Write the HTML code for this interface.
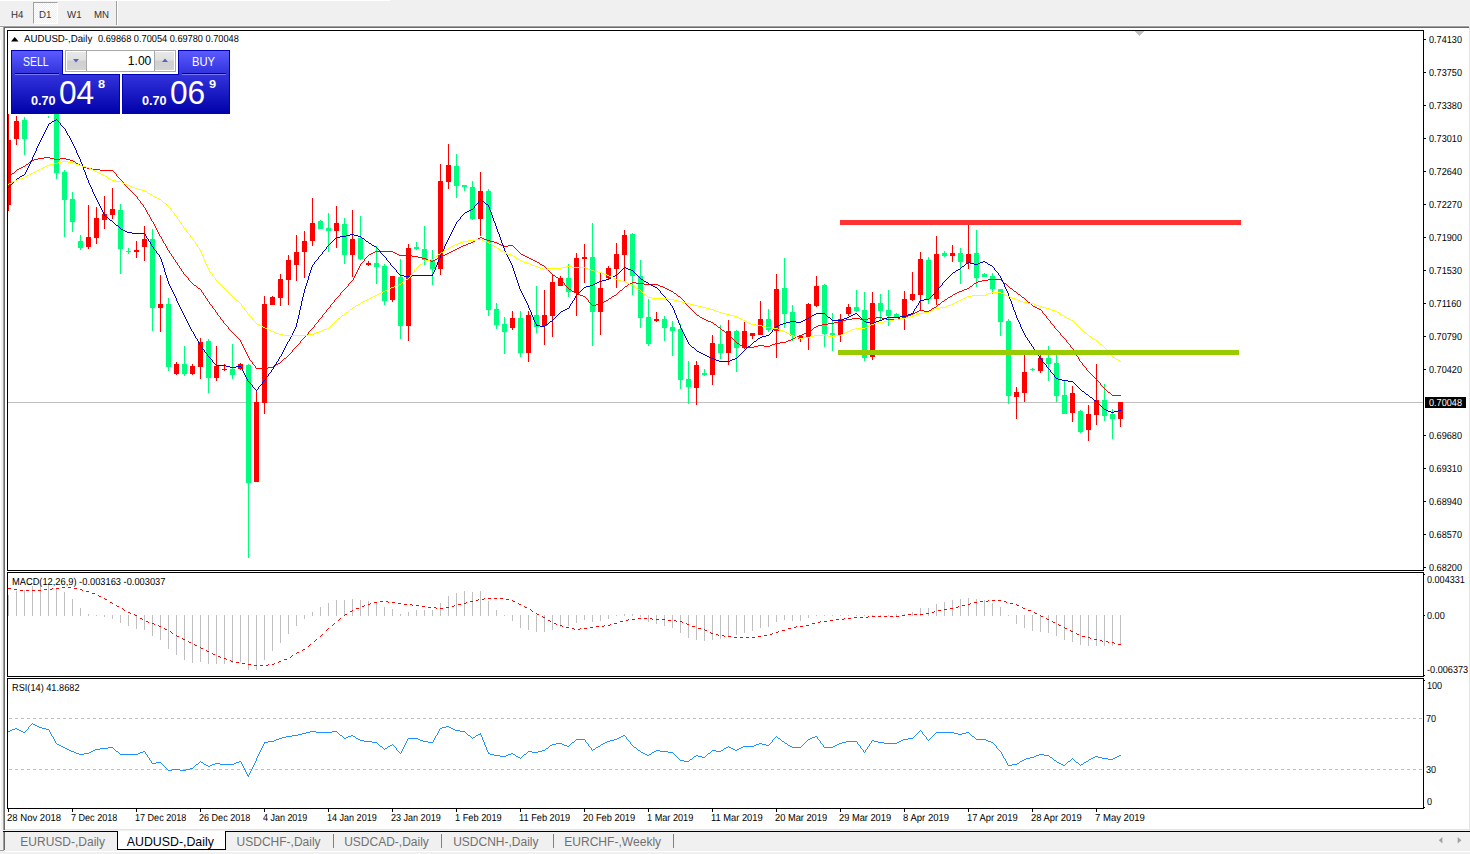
<!DOCTYPE html><html><head><meta charset="utf-8"><title>AUDUSD Daily</title><style>
html,body{margin:0;padding:0}
body{width:1470px;height:854px;overflow:hidden;background:#f0f0f0;position:relative;font-family:"Liberation Sans",sans-serif;}
.a{position:absolute}
.t{position:absolute;white-space:pre;font-size:10.2px;line-height:10px;color:#000;transform-origin:0 0;text-rendering:geometricPrecision}
.tb{position:absolute;white-space:pre;font-size:10.2px;line-height:10px;color:#333;top:11px;text-rendering:geometricPrecision;transform:scaleX(0.95);transform-origin:0 0}
.tab{position:absolute;white-space:pre;font-size:12.3px;line-height:14px;color:#707070;top:835px}
svg{position:absolute;left:0;top:0}

</style></head><body>
<div class="a" style="left:0;top:0;width:390px;height:1px;background:#fff"></div>
<div class="a" style="left:33px;top:2px;width:25px;height:22px;background:repeating-conic-gradient(#ffffff 0% 25%,#f0f0f0 0% 50%) 0 0/2px 2px;border-left:1px solid #a0a0a0;border-top:1px solid #a0a0a0;border-right:1px solid #fff;border-bottom:1px solid #fff;box-sizing:border-box"></div>
<div class="tb" style="left:10.5px">H4</div>
<div class="tb" style="left:39.3px">D1</div>
<div class="tb" style="left:67px">W1</div>
<div class="tb" style="left:93.7px">MN</div>
<div class="a" style="left:116px;top:1px;width:1px;height:25px;background:#a0a0a0"></div>
<div class="a" style="left:117px;top:1px;width:1px;height:25px;background:#fff"></div>
<div class="a" style="left:0px;top:25px;width:1470px;height:1px;background:#f4f4f4"></div>
<div class="a" style="left:0px;top:26px;width:1469px;height:1px;background:#a0a0a0"></div>
<div class="a" style="left:0px;top:27px;width:3px;height:1px;background:#fff"></div>
<div class="a" style="left:0px;top:40px;width:1px;height:790px;background:#fff"></div>
<div class="a" style="left:3px;top:26px;width:1466px;height:804px;background:#a0a0a0"></div>
<div class="a" style="left:4px;top:27px;width:1465px;height:803px;background:#696969"></div>
<div class="a" style="left:5px;top:28px;width:1464px;height:801px;background:#fff"></div>
<div class="a" style="left:5px;top:829px;width:1464px;height:1px;background:#e3e3e3"></div>
<div class="a" style="left:1469px;top:26px;width:1px;height:804px;background:#e3e3e3"></div>
<div class="a" style="left:0px;top:830px;width:1470px;height:1px;background:#f0f0f0"></div>
<div class="a" style="left:3px;top:831px;width:1467px;height:1px;background:#000"></div>
<div class="a" style="left:3px;top:832px;width:1px;height:19px;background:#a0a0a0"></div>
<div class="a" style="left:4px;top:832px;width:1px;height:18px;background:#696969"></div>
<div class="a" style="left:0px;top:850px;width:4px;height:1px;background:#a0a0a0"></div>
<div class="a" style="left:5px;top:851px;width:1465px;height:1px;background:#fff"></div>
<div class="a" style="left:117px;top:831px;width:109px;height:19px;background:#fff;border:1px solid #000;border-top:none;box-sizing:border-box"></div>
<div class="a" style="left:118px;top:831px;width:107px;height:1px;background:#fff"></div>
<div class="tab" style="left:20.3px;font-size:12.0px;">EURUSD-,Daily</div>
<div class="tab" style="left:126.8px;font-size:12.35px;color:#000">AUDUSD-,Daily</div>
<div class="tab" style="left:236.6px;font-size:12.0px;">USDCHF-,Daily</div>
<div class="tab" style="left:344.2px;font-size:12.0px;">USDCAD-,Daily</div>
<div class="tab" style="left:453.2px;font-size:12.0px;">USDCNH-,Daily</div>
<div class="tab" style="left:564.2px;font-size:12.07px;">EURCHF-,Weekly</div>
<div class="a" style="left:333px;top:834px;width:1px;height:14px;background:#808080"></div>
<div class="a" style="left:441px;top:834px;width:1px;height:14px;background:#808080"></div>
<div class="a" style="left:553px;top:834px;width:1px;height:14px;background:#808080"></div>
<div class="a" style="left:673px;top:834px;width:1px;height:14px;background:#808080"></div>
<svg width="1470" height="854" viewBox="0 0 1470 854" shape-rendering="crispEdges">
<rect x="8" y="402" width="1415" height="1" fill="#c0c0c0"/>
<clipPath id="cc"><rect x="8" y="31" width="1415" height="539"/></clipPath><g clip-path="url(#cc)">
<rect x="8" y="114" width="1" height="97" fill="#ff0000"/>
<rect x="6" y="140" width="5" height="65" fill="#ff0000"/>
<rect x="16" y="116" width="1" height="29" fill="#ff0000"/>
<rect x="14" y="121" width="5" height="18" fill="#ff0000"/>
<rect x="24" y="117" width="1" height="38" fill="#00ff7f"/>
<rect x="22" y="120" width="5" height="19" fill="#00ff7f"/>
<rect x="48" y="116" width="1" height="2" fill="#00ff7f"/>
<rect x="46" y="100" width="5" height="1" fill="#00ff7f"/>
<rect x="56" y="100" width="1" height="79" fill="#00ff7f"/>
<rect x="54" y="100" width="5" height="73" fill="#00ff7f"/>
<rect x="64" y="170" width="1" height="67" fill="#00ff7f"/>
<rect x="62" y="172" width="5" height="28" fill="#00ff7f"/>
<rect x="72" y="192" width="1" height="40" fill="#00ff7f"/>
<rect x="70" y="199" width="5" height="23" fill="#00ff7f"/>
<rect x="80" y="235" width="1" height="15" fill="#00ff7f"/>
<rect x="78" y="241" width="5" height="7" fill="#00ff7f"/>
<rect x="88" y="205" width="1" height="44" fill="#ff0000"/>
<rect x="86" y="237" width="5" height="10" fill="#ff0000"/>
<rect x="96" y="207" width="1" height="37" fill="#ff0000"/>
<rect x="94" y="218" width="5" height="20" fill="#ff0000"/>
<rect x="104" y="196" width="1" height="33" fill="#ff0000"/>
<rect x="102" y="214" width="5" height="6" fill="#ff0000"/>
<rect x="112" y="188" width="1" height="31" fill="#ff0000"/>
<rect x="110" y="209" width="5" height="6" fill="#ff0000"/>
<rect x="120" y="204" width="1" height="70" fill="#00ff7f"/>
<rect x="118" y="210" width="5" height="39" fill="#00ff7f"/>
<rect x="128" y="248" width="1" height="6" fill="#00ff7f"/>
<rect x="126" y="251" width="5" height="1" fill="#00ff7f"/>
<rect x="136" y="241" width="1" height="17" fill="#ff0000"/>
<rect x="134" y="250" width="5" height="2" fill="#ff0000"/>
<rect x="144" y="226" width="1" height="35" fill="#ff0000"/>
<rect x="142" y="239" width="5" height="8" fill="#ff0000"/>
<rect x="152" y="229" width="1" height="102" fill="#00ff7f"/>
<rect x="150" y="239" width="5" height="69" fill="#00ff7f"/>
<rect x="160" y="275" width="1" height="57" fill="#ff0000"/>
<rect x="158" y="304" width="5" height="4" fill="#ff0000"/>
<rect x="168" y="298" width="1" height="73" fill="#00ff7f"/>
<rect x="166" y="304" width="5" height="63" fill="#00ff7f"/>
<rect x="176" y="362" width="1" height="13" fill="#ff0000"/>
<rect x="174" y="364" width="5" height="10" fill="#ff0000"/>
<rect x="184" y="346" width="1" height="30" fill="#00ff7f"/>
<rect x="182" y="364" width="5" height="10" fill="#00ff7f"/>
<rect x="192" y="364" width="1" height="11" fill="#ff0000"/>
<rect x="190" y="366" width="5" height="8" fill="#ff0000"/>
<rect x="200" y="338" width="1" height="41" fill="#ff0000"/>
<rect x="198" y="342" width="5" height="25" fill="#ff0000"/>
<rect x="208" y="339" width="1" height="54" fill="#00ff7f"/>
<rect x="206" y="341" width="5" height="37" fill="#00ff7f"/>
<rect x="216" y="346" width="1" height="35" fill="#ff0000"/>
<rect x="214" y="366" width="5" height="12" fill="#ff0000"/>
<rect x="224" y="364" width="1" height="7" fill="#ff0000"/>
<rect x="222" y="369" width="5" height="1" fill="#ff0000"/>
<rect x="232" y="344" width="1" height="35" fill="#00ff7f"/>
<rect x="230" y="369" width="5" height="6" fill="#00ff7f"/>
<rect x="240" y="363" width="1" height="7" fill="#ff0000"/>
<rect x="238" y="364" width="5" height="5" fill="#ff0000"/>
<rect x="248" y="364" width="1" height="194" fill="#00ff7f"/>
<rect x="246" y="365" width="5" height="118" fill="#00ff7f"/>
<rect x="256" y="390" width="1" height="92" fill="#ff0000"/>
<rect x="254" y="402" width="5" height="80" fill="#ff0000"/>
<rect x="264" y="296" width="1" height="118" fill="#ff0000"/>
<rect x="262" y="304" width="5" height="99" fill="#ff0000"/>
<rect x="272" y="296" width="1" height="9" fill="#ff0000"/>
<rect x="270" y="297" width="5" height="8" fill="#ff0000"/>
<rect x="280" y="274" width="1" height="32" fill="#ff0000"/>
<rect x="278" y="279" width="5" height="19" fill="#ff0000"/>
<rect x="288" y="255" width="1" height="50" fill="#ff0000"/>
<rect x="286" y="260" width="5" height="20" fill="#ff0000"/>
<rect x="296" y="235" width="1" height="46" fill="#ff0000"/>
<rect x="294" y="252" width="5" height="13" fill="#ff0000"/>
<rect x="304" y="231" width="1" height="47" fill="#ff0000"/>
<rect x="302" y="241" width="5" height="11" fill="#ff0000"/>
<rect x="312" y="198" width="1" height="48" fill="#ff0000"/>
<rect x="310" y="223" width="5" height="18" fill="#ff0000"/>
<rect x="320" y="220" width="1" height="9" fill="#00ff7f"/>
<rect x="318" y="221" width="5" height="8" fill="#00ff7f"/>
<rect x="328" y="213" width="1" height="39" fill="#00ff7f"/>
<rect x="326" y="228" width="5" height="3" fill="#00ff7f"/>
<rect x="336" y="206" width="1" height="42" fill="#ff0000"/>
<rect x="334" y="223" width="5" height="8" fill="#ff0000"/>
<rect x="344" y="218" width="1" height="46" fill="#00ff7f"/>
<rect x="342" y="224" width="5" height="31" fill="#00ff7f"/>
<rect x="352" y="210" width="1" height="67" fill="#ff0000"/>
<rect x="350" y="239" width="5" height="16" fill="#ff0000"/>
<rect x="360" y="216" width="1" height="44" fill="#00ff7f"/>
<rect x="358" y="238" width="5" height="21" fill="#00ff7f"/>
<rect x="368" y="261" width="1" height="5" fill="#ff0000"/>
<rect x="366" y="263" width="5" height="2" fill="#ff0000"/>
<rect x="376" y="246" width="1" height="38" fill="#00ff7f"/>
<rect x="374" y="263" width="5" height="4" fill="#00ff7f"/>
<rect x="384" y="264" width="1" height="41" fill="#00ff7f"/>
<rect x="382" y="266" width="5" height="35" fill="#00ff7f"/>
<rect x="392" y="276" width="1" height="26" fill="#ff0000"/>
<rect x="390" y="276" width="5" height="24" fill="#ff0000"/>
<rect x="400" y="259" width="1" height="80" fill="#00ff7f"/>
<rect x="398" y="277" width="5" height="49" fill="#00ff7f"/>
<rect x="408" y="244" width="1" height="97" fill="#ff0000"/>
<rect x="406" y="248" width="5" height="78" fill="#ff0000"/>
<rect x="416" y="242" width="1" height="8" fill="#00ff7f"/>
<rect x="414" y="247" width="5" height="2" fill="#00ff7f"/>
<rect x="424" y="226" width="1" height="39" fill="#00ff7f"/>
<rect x="422" y="249" width="5" height="11" fill="#00ff7f"/>
<rect x="432" y="250" width="1" height="35" fill="#00ff7f"/>
<rect x="430" y="260" width="5" height="9" fill="#00ff7f"/>
<rect x="440" y="164" width="1" height="111" fill="#ff0000"/>
<rect x="438" y="181" width="5" height="88" fill="#ff0000"/>
<rect x="448" y="144" width="1" height="45" fill="#ff0000"/>
<rect x="446" y="165" width="5" height="17" fill="#ff0000"/>
<rect x="456" y="154" width="1" height="44" fill="#00ff7f"/>
<rect x="454" y="166" width="5" height="20" fill="#00ff7f"/>
<rect x="464" y="185" width="1" height="6" fill="#00ff7f"/>
<rect x="462" y="185" width="5" height="2" fill="#00ff7f"/>
<rect x="472" y="181" width="1" height="39" fill="#00ff7f"/>
<rect x="470" y="187" width="5" height="32" fill="#00ff7f"/>
<rect x="480" y="172" width="1" height="64" fill="#ff0000"/>
<rect x="478" y="191" width="5" height="28" fill="#ff0000"/>
<rect x="488" y="189" width="1" height="127" fill="#00ff7f"/>
<rect x="486" y="191" width="5" height="119" fill="#00ff7f"/>
<rect x="496" y="303" width="1" height="26" fill="#00ff7f"/>
<rect x="494" y="309" width="5" height="16" fill="#00ff7f"/>
<rect x="504" y="317" width="1" height="37" fill="#00ff7f"/>
<rect x="502" y="324" width="5" height="8" fill="#00ff7f"/>
<rect x="512" y="311" width="1" height="19" fill="#ff0000"/>
<rect x="510" y="318" width="5" height="10" fill="#ff0000"/>
<rect x="520" y="311" width="1" height="46" fill="#00ff7f"/>
<rect x="518" y="318" width="5" height="35" fill="#00ff7f"/>
<rect x="528" y="311" width="1" height="51" fill="#ff0000"/>
<rect x="526" y="315" width="5" height="38" fill="#ff0000"/>
<rect x="536" y="286" width="1" height="47" fill="#00ff7f"/>
<rect x="534" y="315" width="5" height="12" fill="#00ff7f"/>
<rect x="544" y="290" width="1" height="55" fill="#ff0000"/>
<rect x="542" y="315" width="5" height="11" fill="#ff0000"/>
<rect x="552" y="275" width="1" height="62" fill="#ff0000"/>
<rect x="550" y="282" width="5" height="34" fill="#ff0000"/>
<rect x="560" y="276" width="1" height="10" fill="#ff0000"/>
<rect x="558" y="278" width="5" height="8" fill="#ff0000"/>
<rect x="568" y="264" width="1" height="33" fill="#00ff7f"/>
<rect x="566" y="278" width="5" height="14" fill="#00ff7f"/>
<rect x="576" y="253" width="1" height="63" fill="#ff0000"/>
<rect x="574" y="258" width="5" height="35" fill="#ff0000"/>
<rect x="584" y="244" width="1" height="39" fill="#ff0000"/>
<rect x="582" y="257" width="5" height="2" fill="#ff0000"/>
<rect x="592" y="223" width="1" height="123" fill="#00ff7f"/>
<rect x="590" y="257" width="5" height="55" fill="#00ff7f"/>
<rect x="600" y="273" width="1" height="62" fill="#ff0000"/>
<rect x="598" y="288" width="5" height="24" fill="#ff0000"/>
<rect x="608" y="266" width="1" height="13" fill="#ff0000"/>
<rect x="606" y="268" width="5" height="10" fill="#ff0000"/>
<rect x="616" y="243" width="1" height="45" fill="#ff0000"/>
<rect x="614" y="254" width="5" height="15" fill="#ff0000"/>
<rect x="624" y="230" width="1" height="51" fill="#ff0000"/>
<rect x="622" y="235" width="5" height="20" fill="#ff0000"/>
<rect x="632" y="233" width="1" height="62" fill="#00ff7f"/>
<rect x="630" y="234" width="5" height="42" fill="#00ff7f"/>
<rect x="640" y="260" width="1" height="68" fill="#00ff7f"/>
<rect x="638" y="276" width="5" height="42" fill="#00ff7f"/>
<rect x="648" y="299" width="1" height="47" fill="#00ff7f"/>
<rect x="646" y="317" width="5" height="27" fill="#00ff7f"/>
<rect x="656" y="312" width="1" height="10" fill="#ff0000"/>
<rect x="654" y="319" width="5" height="2" fill="#ff0000"/>
<rect x="664" y="316" width="1" height="25" fill="#00ff7f"/>
<rect x="662" y="319" width="5" height="9" fill="#00ff7f"/>
<rect x="672" y="321" width="1" height="35" fill="#00ff7f"/>
<rect x="670" y="327" width="5" height="4" fill="#00ff7f"/>
<rect x="680" y="324" width="1" height="65" fill="#00ff7f"/>
<rect x="678" y="329" width="5" height="51" fill="#00ff7f"/>
<rect x="688" y="361" width="1" height="43" fill="#00ff7f"/>
<rect x="686" y="379" width="5" height="8" fill="#00ff7f"/>
<rect x="696" y="361" width="1" height="44" fill="#ff0000"/>
<rect x="694" y="365" width="5" height="23" fill="#ff0000"/>
<rect x="704" y="369" width="1" height="7" fill="#00ff7f"/>
<rect x="702" y="373" width="5" height="2" fill="#00ff7f"/>
<rect x="712" y="335" width="1" height="50" fill="#ff0000"/>
<rect x="710" y="343" width="5" height="32" fill="#ff0000"/>
<rect x="720" y="325" width="1" height="34" fill="#00ff7f"/>
<rect x="718" y="344" width="5" height="9" fill="#00ff7f"/>
<rect x="728" y="320" width="1" height="45" fill="#ff0000"/>
<rect x="726" y="331" width="5" height="22" fill="#ff0000"/>
<rect x="736" y="330" width="1" height="42" fill="#00ff7f"/>
<rect x="734" y="331" width="5" height="17" fill="#00ff7f"/>
<rect x="744" y="322" width="1" height="27" fill="#ff0000"/>
<rect x="742" y="331" width="5" height="17" fill="#ff0000"/>
<rect x="752" y="333" width="1" height="6" fill="#ff0000"/>
<rect x="750" y="333" width="5" height="3" fill="#ff0000"/>
<rect x="760" y="301" width="1" height="34" fill="#ff0000"/>
<rect x="758" y="319" width="5" height="16" fill="#ff0000"/>
<rect x="768" y="309" width="1" height="23" fill="#00ff7f"/>
<rect x="766" y="319" width="5" height="11" fill="#00ff7f"/>
<rect x="776" y="274" width="1" height="84" fill="#ff0000"/>
<rect x="774" y="289" width="5" height="42" fill="#ff0000"/>
<rect x="784" y="258" width="1" height="70" fill="#00ff7f"/>
<rect x="782" y="288" width="5" height="26" fill="#00ff7f"/>
<rect x="792" y="305" width="1" height="36" fill="#00ff7f"/>
<rect x="790" y="312" width="5" height="24" fill="#00ff7f"/>
<rect x="800" y="336" width="1" height="6" fill="#ff0000"/>
<rect x="798" y="336" width="5" height="3" fill="#ff0000"/>
<rect x="808" y="303" width="1" height="47" fill="#ff0000"/>
<rect x="806" y="304" width="5" height="33" fill="#ff0000"/>
<rect x="816" y="276" width="1" height="31" fill="#ff0000"/>
<rect x="814" y="286" width="5" height="20" fill="#ff0000"/>
<rect x="824" y="284" width="1" height="63" fill="#00ff7f"/>
<rect x="822" y="285" width="5" height="49" fill="#00ff7f"/>
<rect x="832" y="313" width="1" height="38" fill="#00ff7f"/>
<rect x="830" y="333" width="5" height="2" fill="#00ff7f"/>
<rect x="840" y="314" width="1" height="28" fill="#ff0000"/>
<rect x="838" y="319" width="5" height="16" fill="#ff0000"/>
<rect x="848" y="304" width="1" height="12" fill="#ff0000"/>
<rect x="846" y="307" width="5" height="7" fill="#ff0000"/>
<rect x="856" y="290" width="1" height="22" fill="#00ff7f"/>
<rect x="854" y="307" width="5" height="4" fill="#00ff7f"/>
<rect x="864" y="292" width="1" height="69" fill="#00ff7f"/>
<rect x="862" y="310" width="5" height="48" fill="#00ff7f"/>
<rect x="872" y="292" width="1" height="68" fill="#ff0000"/>
<rect x="870" y="303" width="5" height="54" fill="#ff0000"/>
<rect x="880" y="294" width="1" height="26" fill="#00ff7f"/>
<rect x="878" y="303" width="5" height="8" fill="#00ff7f"/>
<rect x="888" y="290" width="1" height="36" fill="#00ff7f"/>
<rect x="886" y="310" width="5" height="6" fill="#00ff7f"/>
<rect x="896" y="313" width="1" height="5" fill="#00ff7f"/>
<rect x="894" y="314" width="5" height="4" fill="#00ff7f"/>
<rect x="904" y="291" width="1" height="39" fill="#ff0000"/>
<rect x="902" y="299" width="5" height="19" fill="#ff0000"/>
<rect x="912" y="272" width="1" height="29" fill="#ff0000"/>
<rect x="910" y="294" width="5" height="6" fill="#ff0000"/>
<rect x="920" y="252" width="1" height="58" fill="#ff0000"/>
<rect x="918" y="259" width="5" height="36" fill="#ff0000"/>
<rect x="928" y="257" width="1" height="47" fill="#00ff7f"/>
<rect x="926" y="260" width="5" height="39" fill="#00ff7f"/>
<rect x="936" y="236" width="1" height="69" fill="#ff0000"/>
<rect x="934" y="254" width="5" height="45" fill="#ff0000"/>
<rect x="944" y="251" width="1" height="6" fill="#00ff7f"/>
<rect x="942" y="253" width="5" height="3" fill="#00ff7f"/>
<rect x="952" y="245" width="1" height="17" fill="#ff0000"/>
<rect x="950" y="253" width="5" height="3" fill="#ff0000"/>
<rect x="960" y="248" width="1" height="36" fill="#00ff7f"/>
<rect x="958" y="253" width="5" height="9" fill="#00ff7f"/>
<rect x="968" y="222" width="1" height="47" fill="#ff0000"/>
<rect x="966" y="254" width="5" height="9" fill="#ff0000"/>
<rect x="976" y="230" width="1" height="57" fill="#00ff7f"/>
<rect x="974" y="253" width="5" height="25" fill="#00ff7f"/>
<rect x="984" y="273" width="1" height="4" fill="#00ff7f"/>
<rect x="982" y="274" width="5" height="3" fill="#00ff7f"/>
<rect x="992" y="273" width="1" height="21" fill="#00ff7f"/>
<rect x="990" y="276" width="5" height="13" fill="#00ff7f"/>
<rect x="1000" y="289" width="1" height="47" fill="#00ff7f"/>
<rect x="998" y="289" width="5" height="33" fill="#00ff7f"/>
<rect x="1008" y="319" width="1" height="85" fill="#00ff7f"/>
<rect x="1006" y="321" width="5" height="75" fill="#00ff7f"/>
<rect x="1016" y="387" width="1" height="32" fill="#ff0000"/>
<rect x="1014" y="392" width="5" height="5" fill="#ff0000"/>
<rect x="1024" y="350" width="1" height="52" fill="#ff0000"/>
<rect x="1022" y="372" width="5" height="21" fill="#ff0000"/>
<rect x="1032" y="368" width="1" height="3" fill="#00ff7f"/>
<rect x="1030" y="369" width="5" height="1" fill="#00ff7f"/>
<rect x="1040" y="350" width="1" height="23" fill="#ff0000"/>
<rect x="1038" y="358" width="5" height="13" fill="#ff0000"/>
<rect x="1048" y="346" width="1" height="35" fill="#00ff7f"/>
<rect x="1046" y="358" width="5" height="6" fill="#00ff7f"/>
<rect x="1056" y="350" width="1" height="52" fill="#00ff7f"/>
<rect x="1054" y="363" width="5" height="33" fill="#00ff7f"/>
<rect x="1064" y="380" width="1" height="34" fill="#00ff7f"/>
<rect x="1062" y="395" width="5" height="19" fill="#00ff7f"/>
<rect x="1072" y="386" width="1" height="36" fill="#ff0000"/>
<rect x="1070" y="393" width="5" height="20" fill="#ff0000"/>
<rect x="1080" y="410" width="1" height="23" fill="#00ff7f"/>
<rect x="1078" y="411" width="5" height="21" fill="#00ff7f"/>
<rect x="1088" y="405" width="1" height="36" fill="#ff0000"/>
<rect x="1086" y="414" width="5" height="16" fill="#ff0000"/>
<rect x="1096" y="364" width="1" height="61" fill="#ff0000"/>
<rect x="1094" y="400" width="5" height="15" fill="#ff0000"/>
<rect x="1104" y="384" width="1" height="37" fill="#00ff7f"/>
<rect x="1102" y="400" width="5" height="16" fill="#00ff7f"/>
<rect x="1112" y="409" width="1" height="30" fill="#00ff7f"/>
<rect x="1110" y="414" width="5" height="5" fill="#00ff7f"/>
<rect x="1120" y="402" width="1" height="25" fill="#ff0000"/>
<rect x="1118" y="402" width="5" height="17" fill="#ff0000"/>
</g>
<path fill="#ff0000" d="M8 177h1v1h-1zM9 176h1v1h-1zM10 175h1v1h-1zM11 174h1v1h-1zM12 173h2v1h-2zM14 172h1v1h-1zM15 171h1v1h-1zM16 170h1v1h-1zM17 169h2v1h-2zM19 168h2v1h-2zM21 167h2v1h-2zM23 166h2v1h-2zM25 165h1v1h-1zM26 164h2v1h-2zM28 163h1v1h-1zM29 162h1v1h-1zM30 161h2v1h-2zM32 160h2v1h-2zM34 159h4v1h-4zM38 158h6v1h-6zM44 157h6v1h-6zM50 158h4v1h-4zM54 159h6v1h-6zM60 158h6v1h-6zM66 159h4v1h-4zM70 160h3v1h-3zM73 161h2v1h-2zM75 162h1v1h-1zM76 163h2v1h-2zM78 164h2v1h-2zM80 165h2v1h-2zM82 166h2v1h-2zM84 167h3v1h-3zM87 168h5v1h-5zM92 169h8v1h-8zM100 170h13v1h-13zM113 171h1v1h-1zM114 172h1v1h-1zM115 173h1v1h-1zM116 174h1v2h-1zM117 176h1v1h-1zM118 177h1v1h-1zM119 178h1v1h-1zM120 179h1v1h-1zM121 180h1v1h-1zM122 181h1v1h-1zM123 182h1v1h-1zM124 183h1v2h-1zM125 185h1v1h-1zM126 186h1v1h-1zM127 187h1v1h-1zM128 188h1v1h-1zM129 189h1v1h-1zM130 190h1v1h-1zM131 191h1v1h-1zM132 192h1v1h-1zM133 193h1v1h-1zM134 194h1v1h-1zM135 195h1v1h-1zM136 196h1v1h-1zM137 197h1v2h-1zM138 199h1v1h-1zM139 200h1v1h-1zM140 201h1v2h-1zM141 203h1v1h-1zM142 204h1v1h-1zM143 205h1v2h-1zM144 207h1v1h-1zM145 208h1v2h-1zM146 210h1v2h-1zM147 212h1v2h-1zM148 214h1v1h-1zM149 215h1v2h-1zM150 217h1v2h-1zM151 219h1v2h-1zM152 221h1v1h-1zM153 222h1v2h-1zM154 224h1v2h-1zM155 226h1v2h-1zM156 228h1v2h-1zM157 230h1v2h-1zM158 232h1v2h-1zM159 234h1v2h-1zM160 236h1v1h-1zM161 237h1v2h-1zM162 239h1v2h-1zM163 241h1v2h-1zM164 243h1v1h-1zM165 244h1v2h-1zM166 246h1v2h-1zM167 248h1v2h-1zM168 250h1v1h-1zM169 251h1v2h-1zM170 253h1v1h-1zM171 254h1v2h-1zM172 256h1v1h-1zM173 257h1v2h-1zM174 259h1v1h-1zM175 260h1v2h-1zM176 262h1v1h-1zM177 263h1v2h-1zM178 265h1v1h-1zM179 266h1v2h-1zM180 268h1v1h-1zM181 269h1v2h-1zM182 271h1v1h-1zM183 272h1v2h-1zM184 274h1v1h-1zM185 275h1v1h-1zM186 276h1v1h-1zM187 277h1v1h-1zM188 278h1v2h-1zM189 280h1v1h-1zM190 281h1v1h-1zM191 282h1v1h-1zM192 283h1v1h-1zM193 284h1v1h-1zM194 285h2v1h-2zM196 286h1v1h-1zM197 287h1v1h-1zM198 288h2v1h-2zM200 289h1v1h-1zM201 290h1v2h-1zM202 292h1v1h-1zM203 293h1v2h-1zM204 295h1v1h-1zM205 296h1v2h-1zM206 298h1v1h-1zM207 299h1v2h-1zM208 301h1v1h-1zM209 302h1v2h-1zM210 304h1v1h-1zM211 305h1v1h-1zM212 306h1v2h-1zM213 308h1v1h-1zM214 309h1v1h-1zM215 310h1v2h-1zM216 312h1v1h-1zM217 313h1v2h-1zM218 315h1v1h-1zM219 316h1v1h-1zM220 317h1v2h-1zM221 319h1v1h-1zM222 320h1v1h-1zM223 321h1v2h-1zM224 323h1v1h-1zM225 324h1v1h-1zM226 325h1v1h-1zM227 326h1v1h-1zM228 327h1v2h-1zM229 329h1v1h-1zM230 330h1v1h-1zM231 331h1v1h-1zM232 332h1v1h-1zM233 333h1v1h-1zM234 334h1v1h-1zM235 335h1v1h-1zM236 336h1v1h-1zM237 337h1v1h-1zM238 338h1v1h-1zM239 339h1v1h-1zM240 340h1v2h-1zM241 342h1v2h-1zM242 344h1v2h-1zM243 346h1v2h-1zM244 348h1v2h-1zM245 350h1v2h-1zM246 352h1v2h-1zM247 354h1v2h-1zM248 356h1v2h-1zM249 358h1v2h-1zM250 360h1v1h-1zM251 361h1v1h-1zM252 362h1v2h-1zM253 364h1v1h-1zM254 365h1v1h-1zM255 366h1v2h-1zM256 368h12v1h-12zM268 367h5v1h-5zM273 366h2v1h-2zM275 365h1v1h-1zM276 364h2v1h-2zM278 363h2v1h-2zM280 362h1v1h-1zM281 361h1v1h-1zM282 360h1v1h-1zM283 359h1v1h-1zM284 358h2v1h-2zM286 357h1v1h-1zM287 356h1v1h-1zM288 355h1v1h-1zM289 354h1v1h-1zM290 353h1v1h-1zM291 352h1v1h-1zM292 351h1v1h-1zM292 350h1v1h-1zM293 349h1v1h-1zM294 348h1v1h-1zM295 347h1v1h-1zM296 346h1v1h-1zM297 345h1v1h-1zM298 344h1v1h-1zM299 343h1v1h-1zM300 342h1v1h-1zM300 341h1v1h-1zM301 340h1v1h-1zM302 339h1v1h-1zM303 338h1v1h-1zM304 337h1v1h-1zM305 336h1v1h-1zM306 335h1v1h-1zM307 334h1v1h-1zM308 333h1v1h-1zM308 332h1v1h-1zM309 331h1v1h-1zM310 330h1v1h-1zM311 329h1v1h-1zM312 328h1v1h-1zM313 327h1v1h-1zM314 326h1v1h-1zM314 325h1v1h-1zM315 324h1v1h-1zM316 323h1v1h-1zM317 322h1v1h-1zM318 321h1v1h-1zM318 320h1v1h-1zM319 319h1v1h-1zM320 318h1v1h-1zM321 317h1v1h-1zM322 316h1v1h-1zM322 315h1v1h-1zM323 314h1v1h-1zM324 313h1v1h-1zM325 312h1v1h-1zM326 311h1v1h-1zM326 310h1v1h-1zM327 309h1v1h-1zM328 308h1v1h-1zM329 307h1v1h-1zM330 306h1v1h-1zM330 305h1v1h-1zM331 304h1v1h-1zM332 303h1v1h-1zM333 302h1v1h-1zM334 301h1v1h-1zM334 300h1v1h-1zM335 299h1v1h-1zM336 298h1v1h-1zM337 297h1v1h-1zM338 296h1v1h-1zM339 295h1v1h-1zM340 294h1v1h-1zM340 293h1v1h-1zM341 292h1v1h-1zM342 291h1v1h-1zM343 290h1v1h-1zM344 289h1v1h-1zM345 288h1v1h-1zM346 287h1v1h-1zM347 286h1v1h-1zM348 285h1v1h-1zM348 284h1v1h-1zM349 283h1v1h-1zM350 282h1v1h-1zM351 281h1v1h-1zM352 280h1v1h-1zM353 279h1v1h-1zM353 278h1v1h-1zM354 277h1v1h-1zM354 276h1v1h-1zM355 275h1v1h-1zM355 274h1v1h-1zM356 273h1v1h-1zM356 272h1v1h-1zM357 271h1v1h-1zM357 270h1v1h-1zM358 269h1v1h-1zM358 268h1v1h-1zM359 267h1v1h-1zM359 266h1v1h-1zM360 265h1v1h-1zM360 264h1v1h-1zM361 263h1v1h-1zM362 262h1v1h-1zM363 261h1v1h-1zM364 260h1v1h-1zM364 259h1v1h-1zM365 258h1v1h-1zM366 257h1v1h-1zM367 256h1v1h-1zM368 255h1v1h-1zM369 254h2v1h-2zM371 253h2v1h-2zM373 252h2v1h-2zM375 251h18v1h-18zM393 252h2v1h-2zM395 253h2v1h-2zM397 254h2v1h-2zM399 255h13v1h-13zM412 256h6v1h-6zM418 257h4v1h-4zM422 258h4v1h-4zM426 259h2v1h-2zM428 260h3v1h-3zM431 261h2v1h-2zM433 260h2v1h-2zM435 259h2v1h-2zM437 258h2v1h-2zM439 257h2v1h-2zM441 256h2v1h-2zM443 255h2v1h-2zM445 254h2v1h-2zM447 253h2v1h-2zM449 252h2v1h-2zM451 251h2v1h-2zM453 250h2v1h-2zM455 249h2v1h-2zM457 248h2v1h-2zM459 247h2v1h-2zM461 246h2v1h-2zM463 245h3v1h-3zM466 244h2v1h-2zM468 243h3v1h-3zM471 242h2v1h-2zM473 241h2v1h-2zM475 240h1v1h-1zM476 239h2v1h-2zM478 238h2v1h-2zM480 237h2v1h-2zM482 238h2v1h-2zM484 239h3v1h-3zM487 240h3v1h-3zM490 241h4v1h-4zM494 242h3v1h-3zM497 243h2v1h-2zM499 244h2v1h-2zM501 245h2v1h-2zM503 246h5v1h-5zM508 245h5v1h-5zM513 246h1v1h-1zM514 247h1v1h-1zM515 248h1v1h-1zM516 249h1v1h-1zM517 250h1v1h-1zM518 251h1v1h-1zM519 252h1v1h-1zM520 253h1v1h-1zM521 254h2v1h-2zM523 255h2v1h-2zM525 256h2v1h-2zM527 257h2v1h-2zM529 258h2v1h-2zM531 259h2v1h-2zM533 260h2v1h-2zM535 261h2v1h-2zM537 262h2v1h-2zM539 263h1v1h-1zM540 264h2v1h-2zM542 265h2v1h-2zM544 266h1v1h-1zM545 267h1v1h-1zM546 268h1v1h-1zM547 269h1v1h-1zM548 270h1v1h-1zM549 271h1v1h-1zM550 272h1v1h-1zM551 273h1v1h-1zM552 274h1v1h-1zM553 275h2v1h-2zM555 276h1v1h-1zM556 277h2v1h-2zM558 278h2v1h-2zM560 279h1v1h-1zM561 280h1v1h-1zM562 281h1v1h-1zM563 282h1v1h-1zM564 283h1v2h-1zM565 285h1v1h-1zM566 286h1v1h-1zM567 287h1v1h-1zM568 288h1v1h-1zM569 289h2v1h-2zM571 290h1v1h-1zM572 291h2v1h-2zM574 292h2v1h-2zM576 293h2v1h-2zM578 294h2v1h-2zM580 295h3v1h-3zM583 296h2v1h-2zM585 297h1v1h-1zM586 298h1v1h-1zM587 299h1v1h-1zM588 300h1v2h-1zM589 302h1v1h-1zM590 303h1v1h-1zM591 304h1v1h-1zM592 305h4v1h-4zM596 304h5v1h-5zM601 303h2v1h-2zM603 302h1v1h-1zM604 301h2v1h-2zM606 300h2v1h-2zM608 299h1v1h-1zM609 298h2v1h-2zM611 297h1v1h-1zM612 296h2v1h-2zM614 295h2v1h-2zM616 294h1v1h-1zM617 293h1v1h-1zM618 292h1v1h-1zM619 291h1v1h-1zM620 290h2v1h-2zM622 289h1v1h-1zM623 288h1v1h-1zM624 287h1v1h-1zM625 286h2v1h-2zM627 285h1v1h-1zM628 284h2v1h-2zM630 283h2v1h-2zM632 282h4v1h-4zM636 283h8v1h-8zM644 284h14v1h-14zM658 285h2v1h-2zM660 286h3v1h-3zM663 287h2v1h-2zM665 288h2v1h-2zM667 289h2v1h-2zM669 290h2v1h-2zM671 291h2v1h-2zM673 292h1v1h-1zM674 293h2v1h-2zM676 294h1v1h-1zM677 295h1v1h-1zM678 296h2v1h-2zM680 297h1v1h-1zM681 298h1v1h-1zM682 299h1v1h-1zM683 300h1v1h-1zM684 301h1v2h-1zM685 303h1v1h-1zM686 304h1v1h-1zM687 305h1v1h-1zM688 306h1v1h-1zM689 307h1v1h-1zM690 308h1v1h-1zM691 309h1v1h-1zM692 310h1v1h-1zM693 311h1v1h-1zM694 312h1v1h-1zM695 313h1v1h-1zM696 314h1v1h-1zM697 315h2v1h-2zM699 316h1v1h-1zM700 317h2v1h-2zM702 318h2v1h-2zM704 319h2v1h-2zM706 320h2v1h-2zM708 321h3v1h-3zM711 322h2v1h-2zM713 323h1v1h-1zM714 324h2v1h-2zM716 325h1v1h-1zM717 326h1v1h-1zM718 327h2v1h-2zM720 328h1v1h-1zM721 329h1v1h-1zM722 330h2v1h-2zM724 331h1v1h-1zM725 332h1v1h-1zM726 333h2v1h-2zM728 334h1v1h-1zM729 335h1v1h-1zM730 336h1v1h-1zM731 337h1v1h-1zM732 338h1v1h-1zM733 339h1v1h-1zM734 340h1v1h-1zM735 341h1v1h-1zM736 342h1v1h-1zM737 343h2v1h-2zM739 344h1v1h-1zM740 345h2v1h-2zM742 346h2v1h-2zM744 347h10v1h-10zM754 346h4v1h-4zM758 345h6v1h-6zM764 346h6v1h-6zM770 345h2v1h-2zM772 344h3v1h-3zM775 343h5v1h-5zM780 342h6v1h-6zM786 341h2v1h-2zM788 340h3v1h-3zM791 339h2v1h-2zM793 338h2v1h-2zM795 337h2v1h-2zM797 336h2v1h-2zM799 335h3v1h-3zM802 334h2v1h-2zM804 333h3v1h-3zM807 332h2v1h-2zM809 331h1v1h-1zM810 330h2v1h-2zM812 329h1v1h-1zM813 328h1v1h-1zM814 327h2v1h-2zM816 326h2v1h-2zM818 325h4v1h-4zM822 324h6v1h-6zM828 323h6v1h-6zM834 322h4v1h-4zM838 321h4v1h-4zM842 320h4v1h-4zM846 319h6v1h-6zM852 318h8v1h-8zM860 319h8v1h-8zM868 318h8v1h-8zM876 317h6v1h-6zM882 318h4v1h-4zM886 319h12v1h-12zM898 318h4v1h-4zM902 317h4v1h-4zM906 316h2v1h-2zM908 315h3v1h-3zM911 314h2v1h-2zM913 313h2v1h-2zM915 312h2v1h-2zM917 311h2v1h-2zM919 310h5v1h-5zM924 311h5v1h-5zM929 310h2v1h-2zM931 309h1v1h-1zM932 308h2v1h-2zM934 307h2v1h-2zM936 306h1v1h-1zM937 305h1v1h-1zM938 304h2v1h-2zM940 303h1v1h-1zM941 302h1v1h-1zM942 301h2v1h-2zM944 300h1v1h-1zM945 299h2v1h-2zM947 298h1v1h-1zM948 297h2v1h-2zM950 296h2v1h-2zM952 295h1v1h-1zM953 294h2v1h-2zM955 293h2v1h-2zM957 292h2v1h-2zM959 291h3v1h-3zM962 290h2v1h-2zM964 289h3v1h-3zM967 288h2v1h-2zM969 287h1v1h-1zM970 286h2v1h-2zM972 285h1v1h-1zM973 284h1v1h-1zM974 283h2v1h-2zM976 282h2v1h-2zM978 281h4v1h-4zM982 280h6v1h-6zM988 279h13v1h-13zM1001 280h1v1h-1zM1002 281h1v1h-1zM1003 282h1v1h-1zM1004 283h2v1h-2zM1006 284h1v1h-1zM1007 285h1v1h-1zM1008 286h1v1h-1zM1009 287h1v1h-1zM1010 288h2v1h-2zM1012 289h1v1h-1zM1013 290h1v1h-1zM1014 291h2v1h-2zM1016 292h1v1h-1zM1017 293h1v1h-1zM1018 294h2v1h-2zM1020 295h1v1h-1zM1021 296h1v1h-1zM1022 297h2v1h-2zM1024 298h1v1h-1zM1025 299h1v1h-1zM1026 300h1v1h-1zM1027 301h1v1h-1zM1028 302h2v1h-2zM1030 303h1v1h-1zM1031 304h1v1h-1zM1032 305h1v1h-1zM1033 306h2v1h-2zM1035 307h2v1h-2zM1037 308h2v1h-2zM1039 309h2v1h-2zM1041 310h1v1h-1zM1042 311h1v2h-1zM1043 313h1v1h-1zM1044 314h1v1h-1zM1045 315h1v1h-1zM1046 316h1v2h-1zM1047 318h1v1h-1zM1048 319h1v1h-1zM1049 320h1v1h-1zM1050 321h1v2h-1zM1051 323h1v1h-1zM1052 324h1v1h-1zM1053 325h1v1h-1zM1054 326h1v2h-1zM1055 328h1v1h-1zM1056 329h1v1h-1zM1057 330h1v1h-1zM1058 331h1v1h-1zM1059 332h1v1h-1zM1060 333h1v2h-1zM1061 335h1v1h-1zM1062 336h1v1h-1zM1063 337h1v1h-1zM1064 338h1v1h-1zM1065 339h1v1h-1zM1066 340h1v2h-1zM1067 342h1v1h-1zM1068 343h1v1h-1zM1069 344h1v1h-1zM1070 345h1v2h-1zM1071 347h1v1h-1zM1072 348h1v1h-1zM1073 349h1v2h-1zM1074 351h1v2h-1zM1075 353h1v1h-1zM1076 354h1v2h-1zM1077 356h1v1h-1zM1078 357h1v2h-1zM1079 359h1v2h-1zM1080 361h1v1h-1zM1081 362h1v1h-1zM1082 363h1v2h-1zM1083 365h1v1h-1zM1084 366h1v1h-1zM1085 367h1v1h-1zM1086 368h1v2h-1zM1087 370h1v1h-1zM1088 371h1v1h-1zM1089 372h1v1h-1zM1090 373h1v1h-1zM1091 374h1v1h-1zM1092 375h1v1h-1zM1093 376h1v1h-1zM1094 377h1v1h-1zM1095 378h1v1h-1zM1096 379h1v1h-1zM1097 380h1v1h-1zM1098 381h1v1h-1zM1099 382h1v1h-1zM1100 383h1v2h-1zM1101 385h1v1h-1zM1102 386h1v1h-1zM1103 387h1v1h-1zM1104 388h1v1h-1zM1105 389h1v1h-1zM1106 390h1v1h-1zM1107 391h1v1h-1zM1108 392h2v1h-2zM1110 393h1v1h-1zM1111 394h1v1h-1zM1112 395h9v1h-9z"/>
<path fill="#0000cd" d="M8 187h1v1h-1zM9 186h1v1h-1zM10 185h1v1h-1zM11 184h1v1h-1zM12 183h1v1h-1zM13 182h1v1h-1zM14 181h1v1h-1zM15 180h1v1h-1zM16 179h1v1h-1zM17 178h2v1h-2zM19 177h1v1h-1zM20 176h2v1h-2zM22 175h2v1h-2zM24 174h1v1h-1zM25 173h1v1h-1zM25 172h1v1h-1zM26 171h1v1h-1zM26 170h1v1h-1zM27 169h1v1h-1zM27 168h1v1h-1zM28 167h1v1h-1zM28 166h1v1h-1zM29 165h1v1h-1zM29 164h1v1h-1zM30 163h1v1h-1zM30 162h1v1h-1zM31 161h1v1h-1zM31 160h1v1h-1zM32 159h1v1h-1zM32 158h1v1h-1zM32 157h1v1h-1zM33 156h1v1h-1zM33 155h1v1h-1zM34 154h1v1h-1zM34 153h1v1h-1zM35 152h1v1h-1zM35 151h1v1h-1zM36 150h1v1h-1zM36 149h1v1h-1zM36 148h1v1h-1zM37 147h1v1h-1zM37 146h1v1h-1zM38 145h1v1h-1zM38 144h1v1h-1zM39 143h1v1h-1zM39 142h1v1h-1zM40 141h1v1h-1zM40 140h1v1h-1zM41 139h1v1h-1zM41 138h1v1h-1zM42 137h1v1h-1zM42 136h1v1h-1zM43 135h1v1h-1zM43 134h1v1h-1zM44 133h1v1h-1zM44 132h1v1h-1zM45 131h1v1h-1zM45 130h1v1h-1zM46 129h1v1h-1zM46 128h1v1h-1zM47 127h1v1h-1zM47 126h1v1h-1zM48 125h1v1h-1zM48 124h1v1h-1zM49 123h2v1h-2zM51 122h1v1h-1zM52 121h2v1h-2zM54 120h2v1h-2zM56 119h1v1h-1zM57 120h1v1h-1zM58 121h1v1h-1zM59 122h1v1h-1zM60 123h1v2h-1zM61 125h1v1h-1zM62 126h1v1h-1zM63 127h1v1h-1zM64 128h1v1h-1zM65 129h1v2h-1zM66 131h1v2h-1zM67 133h1v2h-1zM68 135h1v1h-1zM69 136h1v2h-1zM70 138h1v2h-1zM71 140h1v2h-1zM72 142h1v2h-1zM73 144h1v2h-1zM74 146h1v2h-1zM75 148h1v2h-1zM76 150h1v3h-1zM77 153h1v2h-1zM78 155h1v2h-1zM79 157h1v2h-1zM80 159h1v3h-1zM81 162h1v2h-1zM82 164h1v3h-1zM83 167h1v3h-1zM84 170h1v2h-1zM85 172h1v3h-1zM86 175h1v3h-1zM87 178h1v2h-1zM88 180h1v3h-1zM89 183h1v2h-1zM90 185h1v2h-1zM91 187h1v2h-1zM92 189h1v3h-1zM93 192h1v2h-1zM94 194h1v2h-1zM95 196h1v2h-1zM96 198h1v2h-1zM97 200h1v2h-1zM98 202h1v2h-1zM99 204h1v2h-1zM100 206h1v2h-1zM101 208h1v2h-1zM102 210h1v2h-1zM103 212h1v2h-1zM104 214h1v2h-1zM105 216h1v1h-1zM106 217h2v1h-2zM108 218h1v1h-1zM109 219h1v1h-1zM110 220h2v1h-2zM112 221h1v1h-1zM113 222h1v1h-1zM114 223h1v1h-1zM115 224h1v1h-1zM116 225h2v1h-2zM118 226h1v1h-1zM119 227h1v1h-1zM120 228h1v1h-1zM121 229h2v1h-2zM123 230h2v1h-2zM125 231h2v1h-2zM127 232h5v1h-5zM132 233h13v1h-13zM145 234h1v2h-1zM146 236h1v2h-1zM147 238h1v1h-1zM148 239h1v2h-1zM149 241h1v1h-1zM150 242h1v2h-1zM151 244h1v2h-1zM152 246h1v1h-1zM153 247h1v2h-1zM154 249h1v1h-1zM155 250h1v1h-1zM156 251h1v2h-1zM157 253h1v1h-1zM158 254h1v1h-1zM159 255h1v2h-1zM160 257h1v2h-1zM161 259h1v3h-1zM162 262h1v3h-1zM163 265h1v3h-1zM164 268h1v4h-1zM165 272h1v3h-1zM166 275h1v3h-1zM167 278h1v3h-1zM168 281h1v3h-1zM169 284h1v2h-1zM170 286h1v2h-1zM171 288h1v2h-1zM172 290h1v2h-1zM173 292h1v2h-1zM174 294h1v2h-1zM175 296h1v2h-1zM176 298h1v3h-1zM177 301h1v2h-1zM178 303h1v2h-1zM179 305h1v2h-1zM180 307h1v2h-1zM181 309h1v2h-1zM182 311h1v2h-1zM183 313h1v2h-1zM184 315h1v2h-1zM185 317h1v2h-1zM186 319h1v2h-1zM187 321h1v2h-1zM188 323h1v2h-1zM189 325h1v2h-1zM190 327h1v2h-1zM191 329h1v2h-1zM192 331h1v1h-1zM193 332h1v2h-1zM194 334h1v2h-1zM195 336h1v2h-1zM196 338h1v1h-1zM197 339h1v2h-1zM198 341h1v2h-1zM199 343h1v2h-1zM200 345h1v1h-1zM201 346h1v2h-1zM202 348h1v1h-1zM203 349h1v1h-1zM204 350h1v2h-1zM205 352h1v1h-1zM206 353h1v1h-1zM207 354h1v2h-1zM208 356h1v1h-1zM209 357h1v1h-1zM210 358h1v1h-1zM211 359h1v1h-1zM212 360h1v2h-1zM213 362h1v1h-1zM214 363h1v1h-1zM215 364h1v1h-1zM216 365h10v1h-10zM226 366h4v1h-4zM230 367h6v1h-6zM236 366h5v1h-5zM241 367h1v2h-1zM242 369h1v2h-1zM243 371h1v2h-1zM244 373h1v2h-1zM245 375h1v2h-1zM246 377h1v2h-1zM247 379h1v2h-1zM248 381h1v1h-1zM249 382h1v1h-1zM250 383h1v1h-1zM251 384h1v1h-1zM252 385h1v2h-1zM253 387h1v1h-1zM254 388h1v1h-1zM255 389h1v1h-1zM256 390h1v1h-1zM257 389h1v1h-1zM258 388h1v1h-1zM258 387h1v1h-1zM259 386h1v1h-1zM260 385h1v1h-1zM261 384h1v1h-1zM262 383h1v1h-1zM262 382h1v1h-1zM263 381h1v1h-1zM264 380h1v1h-1zM265 379h1v1h-1zM265 378h1v1h-1zM266 377h1v1h-1zM267 376h1v1h-1zM268 375h1v1h-1zM268 374h1v1h-1zM269 373h1v1h-1zM270 372h1v1h-1zM271 371h1v1h-1zM271 370h1v1h-1zM272 369h1v1h-1zM273 368h1v1h-1zM273 367h1v1h-1zM274 366h1v1h-1zM274 365h1v1h-1zM275 364h1v1h-1zM276 363h1v1h-1zM276 362h1v1h-1zM277 361h1v1h-1zM278 360h1v1h-1zM278 359h1v1h-1zM279 358h1v1h-1zM279 357h1v1h-1zM280 356h1v1h-1zM281 355h1v1h-1zM281 354h1v1h-1zM282 353h1v1h-1zM282 352h1v1h-1zM283 351h1v1h-1zM283 350h1v1h-1zM284 349h1v1h-1zM284 348h1v1h-1zM285 347h1v1h-1zM285 346h1v1h-1zM286 345h1v1h-1zM286 344h1v1h-1zM287 343h1v1h-1zM287 342h1v1h-1zM288 341h1v1h-1zM289 340h1v1h-1zM289 339h1v1h-1zM290 338h1v1h-1zM290 337h1v1h-1zM291 336h1v1h-1zM291 335h1v1h-1zM292 334h1v1h-1zM292 333h1v1h-1zM293 332h1v1h-1zM293 331h1v1h-1zM294 330h1v1h-1zM294 329h1v1h-1zM295 328h1v1h-1zM295 327h1v1h-1zM296 326h1v1h-1zM296 325h1v1h-1zM296 324h1v1h-1zM296 323h1v1h-1zM297 322h1v1h-1zM297 321h1v1h-1zM297 320h1v1h-1zM297 319h1v1h-1zM298 318h1v1h-1zM298 317h1v1h-1zM298 316h1v1h-1zM298 315h1v1h-1zM299 314h1v1h-1zM299 313h1v1h-1zM299 312h1v1h-1zM299 311h1v1h-1zM299 310h1v1h-1zM300 309h1v1h-1zM300 308h1v1h-1zM300 307h1v1h-1zM300 306h1v1h-1zM301 305h1v1h-1zM301 304h1v1h-1zM301 303h1v1h-1zM301 302h1v1h-1zM301 301h1v1h-1zM302 300h1v1h-1zM302 299h1v1h-1zM302 298h1v1h-1zM302 297h1v1h-1zM303 296h1v1h-1zM303 295h1v1h-1zM303 294h1v1h-1zM303 293h1v1h-1zM304 292h1v1h-1zM304 291h1v1h-1zM304 290h1v1h-1zM304 289h1v1h-1zM305 288h1v1h-1zM305 287h1v1h-1zM305 286h1v1h-1zM306 285h1v1h-1zM306 284h1v1h-1zM306 283h1v1h-1zM307 282h1v1h-1zM307 281h1v1h-1zM307 280h1v1h-1zM308 279h1v1h-1zM308 278h1v1h-1zM308 277h1v1h-1zM308 276h1v1h-1zM309 275h1v1h-1zM309 274h1v1h-1zM309 273h1v1h-1zM310 272h1v1h-1zM310 271h1v1h-1zM310 270h1v1h-1zM311 269h1v1h-1zM311 268h1v1h-1zM311 267h1v1h-1zM312 266h1v1h-1zM312 265h1v1h-1zM313 264h1v1h-1zM314 263h1v1h-1zM314 262h1v1h-1zM315 261h1v1h-1zM316 260h1v1h-1zM317 259h1v1h-1zM318 258h1v1h-1zM318 257h1v1h-1zM319 256h1v1h-1zM320 255h1v1h-1zM321 254h1v1h-1zM322 253h1v1h-1zM322 252h1v1h-1zM323 251h1v1h-1zM324 250h1v1h-1zM325 249h1v1h-1zM326 248h1v1h-1zM326 247h1v1h-1zM327 246h1v1h-1zM328 245h1v1h-1zM329 244h1v1h-1zM330 243h1v1h-1zM331 242h1v1h-1zM332 241h1v1h-1zM333 240h1v1h-1zM334 239h1v1h-1zM335 238h1v1h-1zM336 237h4v1h-4zM340 236h6v1h-6zM346 235h4v1h-4zM350 234h4v1h-4zM354 235h4v1h-4zM358 236h3v1h-3zM361 237h1v1h-1zM362 238h2v1h-2zM364 239h1v1h-1zM365 240h1v1h-1zM366 241h2v1h-2zM368 242h1v1h-1zM369 243h2v1h-2zM371 244h1v1h-1zM372 245h2v1h-2zM374 246h2v1h-2zM376 247h1v1h-1zM377 248h1v1h-1zM378 249h1v1h-1zM379 250h1v1h-1zM380 251h1v2h-1zM381 253h1v1h-1zM382 254h1v1h-1zM383 255h1v1h-1zM384 256h1v1h-1zM385 257h1v1h-1zM386 258h1v2h-1zM387 260h1v1h-1zM388 261h1v1h-1zM389 262h1v1h-1zM390 263h1v2h-1zM391 265h1v1h-1zM392 266h1v1h-1zM393 267h1v1h-1zM394 268h1v1h-1zM395 269h1v1h-1zM396 270h1v2h-1zM397 272h1v1h-1zM398 273h1v1h-1zM399 274h1v1h-1zM400 275h4v1h-4zM404 276h8v1h-8zM412 275h21v1h-21zM432 274h1v1h-1zM433 273h1v1h-1zM433 272h1v1h-1zM434 271h1v1h-1zM434 270h1v1h-1zM435 269h1v1h-1zM435 268h1v1h-1zM435 267h1v1h-1zM436 266h1v1h-1zM436 265h1v1h-1zM437 264h1v1h-1zM437 263h1v1h-1zM437 262h1v1h-1zM438 261h1v1h-1zM438 260h1v1h-1zM439 259h1v1h-1zM439 258h1v1h-1zM440 257h1v1h-1zM440 256h1v1h-1zM440 255h1v1h-1zM441 254h1v1h-1zM441 253h1v1h-1zM442 252h1v1h-1zM442 251h1v1h-1zM443 250h1v1h-1zM443 249h1v1h-1zM444 248h1v1h-1zM444 247h1v1h-1zM444 246h1v1h-1zM445 245h1v1h-1zM445 244h1v1h-1zM446 243h1v1h-1zM446 242h1v1h-1zM447 241h1v1h-1zM447 240h1v1h-1zM448 239h1v1h-1zM448 238h1v1h-1zM449 237h1v1h-1zM449 236h1v1h-1zM450 235h1v1h-1zM450 234h1v1h-1zM451 233h1v1h-1zM451 232h1v1h-1zM452 231h1v1h-1zM452 230h1v1h-1zM453 229h1v1h-1zM453 228h1v1h-1zM454 227h1v1h-1zM454 226h1v1h-1zM455 225h1v1h-1zM455 224h1v1h-1zM456 223h1v1h-1zM456 222h1v1h-1zM457 221h1v1h-1zM458 220h1v1h-1zM459 219h1v1h-1zM460 218h1v1h-1zM460 217h1v1h-1zM461 216h1v1h-1zM462 215h1v1h-1zM463 214h1v1h-1zM464 213h1v1h-1zM465 212h2v1h-2zM467 211h2v1h-2zM469 210h2v1h-2zM471 209h2v1h-2zM473 208h1v1h-1zM474 207h1v1h-1zM474 206h1v1h-1zM475 205h1v1h-1zM476 204h1v1h-1zM477 203h1v1h-1zM478 202h1v1h-1zM478 201h1v1h-1zM479 200h1v1h-1zM480 199h1v1h-1zM481 200h1v1h-1zM482 201h2v1h-2zM484 202h1v1h-1zM485 203h1v1h-1zM486 204h2v1h-2zM488 205h1v2h-1zM489 207h1v3h-1zM490 210h1v2h-1zM491 212h1v3h-1zM492 215h1v3h-1zM493 218h1v3h-1zM494 221h1v2h-1zM495 223h1v3h-1zM496 226h1v3h-1zM497 229h1v3h-1zM498 232h1v2h-1zM499 234h1v3h-1zM500 237h1v3h-1zM501 240h1v3h-1zM502 243h1v2h-1zM503 245h1v3h-1zM504 248h1v3h-1zM505 251h1v2h-1zM506 253h1v2h-1zM507 255h1v2h-1zM508 257h1v2h-1zM509 259h1v2h-1zM510 261h1v2h-1zM511 263h1v2h-1zM512 265h1v3h-1zM513 268h1v3h-1zM514 271h1v3h-1zM515 274h1v3h-1zM516 277h1v3h-1zM517 280h1v3h-1zM518 283h1v3h-1zM519 286h1v3h-1zM520 289h1v2h-1zM521 291h1v2h-1zM522 293h1v2h-1zM523 295h1v2h-1zM524 297h1v2h-1zM525 299h1v2h-1zM526 301h1v2h-1zM527 303h1v2h-1zM528 305h1v3h-1zM529 308h1v2h-1zM530 310h1v2h-1zM531 312h1v3h-1zM532 315h1v2h-1zM533 317h1v3h-1zM534 320h1v2h-1zM535 322h1v2h-1zM536 324h1v2h-1zM537 325h3v1h-3zM540 326h5v1h-5zM545 325h1v1h-1zM546 324h2v1h-2zM548 323h1v1h-1zM549 322h1v1h-1zM550 321h2v1h-2zM552 320h1v1h-1zM553 319h1v1h-1zM554 318h1v1h-1zM555 317h1v1h-1zM556 316h1v1h-1zM557 315h1v1h-1zM558 314h1v1h-1zM559 313h1v1h-1zM560 312h1v1h-1zM561 311h2v1h-2zM563 310h2v1h-2zM565 309h2v1h-2zM567 308h2v1h-2zM569 307h1v1h-1zM569 306h1v1h-1zM570 305h1v1h-1zM570 304h1v1h-1zM571 303h1v1h-1zM572 302h1v1h-1zM572 301h1v1h-1zM573 300h1v1h-1zM574 299h1v1h-1zM574 298h1v1h-1zM575 297h1v1h-1zM575 296h1v1h-1zM576 295h1v1h-1zM577 294h1v1h-1zM578 293h1v1h-1zM579 292h1v1h-1zM580 291h1v1h-1zM581 290h1v1h-1zM582 289h1v1h-1zM583 288h1v1h-1zM584 287h2v1h-2zM586 286h4v1h-4zM590 285h3v1h-3zM593 284h2v1h-2zM595 283h2v1h-2zM597 282h2v1h-2zM599 281h3v1h-3zM602 280h4v1h-4zM606 279h3v1h-3zM609 278h2v1h-2zM611 277h2v1h-2zM613 276h2v1h-2zM615 275h2v1h-2zM617 274h1v1h-1zM618 273h1v1h-1zM619 272h1v1h-1zM620 271h1v1h-1zM621 270h1v1h-1zM622 269h1v1h-1zM623 268h1v1h-1zM624 267h2v1h-2zM626 268h2v1h-2zM628 269h3v1h-3zM631 270h2v1h-2zM633 271h1v1h-1zM634 272h1v1h-1zM635 273h1v1h-1zM636 274h1v1h-1zM637 275h1v1h-1zM638 276h1v1h-1zM639 277h1v1h-1zM640 278h1v1h-1zM641 279h2v1h-2zM643 280h1v1h-1zM644 281h2v1h-2zM646 282h2v1h-2zM648 283h1v1h-1zM649 284h2v1h-2zM651 285h2v1h-2zM653 286h2v1h-2zM655 287h2v1h-2zM657 288h1v1h-1zM658 289h1v1h-1zM659 290h1v1h-1zM660 291h1v2h-1zM661 293h1v1h-1zM662 294h1v1h-1zM663 295h1v1h-1zM664 296h1v1h-1zM665 297h1v1h-1zM666 298h1v2h-1zM667 300h1v1h-1zM668 301h1v1h-1zM669 302h1v1h-1zM670 303h1v2h-1zM671 305h1v1h-1zM672 306h1v2h-1zM673 308h1v2h-1zM674 310h1v3h-1zM675 313h1v2h-1zM676 315h1v3h-1zM677 318h1v2h-1zM678 320h1v3h-1zM679 323h1v2h-1zM680 325h1v3h-1zM681 328h1v2h-1zM682 330h1v2h-1zM683 332h1v2h-1zM684 334h1v2h-1zM685 336h1v2h-1zM686 338h1v2h-1zM687 340h1v2h-1zM688 342h1v2h-1zM689 344h1v1h-1zM690 345h1v1h-1zM691 346h1v1h-1zM692 347h2v1h-2zM694 348h1v1h-1zM695 349h1v1h-1zM696 350h1v1h-1zM697 351h2v1h-2zM699 352h2v1h-2zM701 353h2v1h-2zM703 354h2v1h-2zM705 355h2v1h-2zM707 356h2v1h-2zM709 357h2v1h-2zM711 358h3v1h-3zM714 359h2v1h-2zM716 360h3v1h-3zM719 361h11v1h-11zM730 360h2v1h-2zM732 359h3v1h-3zM735 358h2v1h-2zM737 357h1v1h-1zM738 356h1v1h-1zM739 355h1v1h-1zM740 354h1v1h-1zM741 353h1v1h-1zM742 352h1v1h-1zM743 351h1v1h-1zM744 350h1v1h-1zM745 349h1v1h-1zM746 348h1v1h-1zM747 347h1v1h-1zM748 346h2v1h-2zM750 345h1v1h-1zM751 344h1v1h-1zM752 343h1v1h-1zM753 342h1v1h-1zM754 341h2v1h-2zM756 340h1v1h-1zM757 339h1v1h-1zM758 338h2v1h-2zM760 337h2v1h-2zM762 336h4v1h-4zM766 335h3v1h-3zM769 334h1v1h-1zM770 333h1v1h-1zM771 332h1v1h-1zM772 331h1v1h-1zM772 330h1v1h-1zM773 329h1v1h-1zM774 328h1v1h-1zM775 327h1v1h-1zM776 326h2v1h-2zM778 325h2v1h-2zM780 324h3v1h-3zM783 323h3v1h-3zM786 322h4v1h-4zM790 321h6v1h-6zM796 322h5v1h-5zM801 321h2v1h-2zM803 320h2v1h-2zM805 319h2v1h-2zM807 318h2v1h-2zM809 317h2v1h-2zM811 316h1v1h-1zM812 315h2v1h-2zM814 314h2v1h-2zM816 313h9v1h-9zM825 314h1v1h-1zM826 315h1v1h-1zM827 316h1v1h-1zM828 317h2v1h-2zM830 318h1v1h-1zM831 319h1v1h-1zM832 320h10v1h-10zM842 319h2v1h-2zM844 318h3v1h-3zM847 317h2v1h-2zM849 316h2v1h-2zM851 315h2v1h-2zM853 314h2v1h-2zM855 313h2v1h-2zM857 314h1v1h-1zM858 315h1v1h-1zM859 316h1v1h-1zM860 317h1v1h-1zM861 318h1v1h-1zM862 319h1v1h-1zM863 320h1v1h-1zM864 321h2v1h-2zM866 322h4v1h-4zM870 323h4v1h-4zM874 322h2v1h-2zM876 321h3v1h-3zM879 320h3v1h-3zM882 319h2v1h-2zM884 318h3v1h-3zM887 317h13v1h-13zM900 316h6v1h-6zM906 315h2v1h-2zM908 314h3v1h-3zM911 313h2v1h-2zM913 312h1v1h-1zM913 311h1v1h-1zM914 310h1v1h-1zM914 309h1v1h-1zM915 308h1v1h-1zM916 307h1v1h-1zM916 306h1v1h-1zM917 305h1v1h-1zM918 304h1v1h-1zM918 303h1v1h-1zM919 302h1v1h-1zM919 301h1v1h-1zM920 300h4v1h-4zM924 299h5v1h-5zM929 298h1v1h-1zM930 297h1v1h-1zM931 296h1v1h-1zM932 295h1v1h-1zM933 294h1v1h-1zM934 293h1v1h-1zM935 292h1v1h-1zM936 291h1v1h-1zM937 290h1v1h-1zM938 289h1v1h-1zM938 288h1v1h-1zM939 287h1v1h-1zM940 286h1v1h-1zM941 285h1v1h-1zM942 284h1v1h-1zM942 283h1v1h-1zM943 282h1v1h-1zM944 281h1v1h-1zM945 280h1v1h-1zM946 279h1v1h-1zM947 278h1v1h-1zM948 277h1v1h-1zM949 276h1v1h-1zM950 275h1v1h-1zM951 274h1v1h-1zM952 273h1v1h-1zM953 272h2v1h-2zM955 271h1v1h-1zM956 270h2v1h-2zM958 269h2v1h-2zM960 268h1v1h-1zM961 267h1v1h-1zM962 266h2v1h-2zM964 265h1v1h-1zM965 264h1v1h-1zM966 263h2v1h-2zM968 262h2v1h-2zM970 263h4v1h-4zM974 264h4v1h-4zM978 263h2v1h-2zM980 262h3v1h-3zM983 261h2v1h-2zM985 262h2v1h-2zM987 263h1v1h-1zM988 264h2v1h-2zM990 265h2v1h-2zM992 266h1v1h-1zM993 267h1v1h-1zM994 268h1v2h-1zM995 270h1v1h-1zM996 271h1v1h-1zM997 272h1v1h-1zM998 273h1v2h-1zM999 275h1v1h-1zM1000 276h1v2h-1zM1001 278h1v2h-1zM1002 280h1v2h-1zM1003 282h1v2h-1zM1004 284h1v3h-1zM1005 287h1v2h-1zM1006 289h1v2h-1zM1007 291h1v2h-1zM1008 293h1v3h-1zM1009 296h1v3h-1zM1010 299h1v2h-1zM1011 301h1v3h-1zM1012 304h1v3h-1zM1013 307h1v3h-1zM1014 310h1v2h-1zM1015 312h1v3h-1zM1016 315h1v3h-1zM1017 318h1v2h-1zM1018 320h1v2h-1zM1019 322h1v2h-1zM1020 324h1v3h-1zM1021 327h1v2h-1zM1022 329h1v2h-1zM1023 331h1v2h-1zM1024 333h1v2h-1zM1025 335h1v2h-1zM1026 337h1v1h-1zM1027 338h1v2h-1zM1028 340h1v1h-1zM1029 341h1v2h-1zM1030 343h1v1h-1zM1031 344h1v2h-1zM1032 346h1v1h-1zM1033 347h1v2h-1zM1034 349h1v1h-1zM1035 350h1v2h-1zM1036 352h1v1h-1zM1037 353h1v2h-1zM1038 355h1v1h-1zM1039 356h1v2h-1zM1040 358h1v1h-1zM1041 359h1v1h-1zM1042 360h1v2h-1zM1043 362h1v1h-1zM1044 363h1v1h-1zM1045 364h1v1h-1zM1046 365h1v2h-1zM1047 367h1v1h-1zM1048 368h1v1h-1zM1049 369h1v1h-1zM1050 370h1v2h-1zM1051 372h1v1h-1zM1052 373h1v1h-1zM1053 374h1v1h-1zM1054 375h1v2h-1zM1055 377h1v1h-1zM1056 378h2v1h-2zM1058 379h4v1h-4zM1062 380h6v1h-6zM1068 381h5v1h-5zM1073 382h1v1h-1zM1074 383h1v1h-1zM1075 384h1v1h-1zM1076 385h1v1h-1zM1077 386h1v1h-1zM1078 387h1v1h-1zM1079 388h1v1h-1zM1080 389h1v1h-1zM1081 390h1v1h-1zM1082 391h2v1h-2zM1084 392h1v1h-1zM1085 393h1v1h-1zM1086 394h2v1h-2zM1088 395h1v1h-1zM1089 396h1v1h-1zM1090 397h2v1h-2zM1092 398h1v1h-1zM1093 399h1v1h-1zM1094 400h2v1h-2zM1096 401h1v1h-1zM1097 402h1v1h-1zM1098 403h1v1h-1zM1099 404h1v1h-1zM1100 405h1v1h-1zM1101 406h1v1h-1zM1102 407h1v1h-1zM1103 408h1v1h-1zM1104 409h2v1h-2zM1106 410h2v1h-2zM1108 411h3v1h-3zM1111 412h3v1h-3zM1114 411h4v1h-4zM1118 410h3v1h-3z"/>
<path fill="#ffff00" d="M8 184h1v1h-1zM9 183h2v1h-2zM11 182h2v1h-2zM13 181h2v1h-2zM15 180h3v1h-3zM18 179h2v1h-2zM20 178h3v1h-3zM23 177h2v1h-2zM25 176h2v1h-2zM27 175h2v1h-2zM29 174h2v1h-2zM31 173h2v1h-2zM33 172h2v1h-2zM35 171h2v1h-2zM37 170h2v1h-2zM39 169h2v1h-2zM41 168h2v1h-2zM43 167h2v1h-2zM45 166h2v1h-2zM47 165h3v1h-3zM50 164h4v1h-4zM54 163h4v1h-4zM58 162h4v1h-4zM62 161h6v1h-6zM68 162h6v1h-6zM74 163h2v1h-2zM76 164h3v1h-3zM79 165h3v1h-3zM82 166h4v1h-4zM86 167h3v1h-3zM89 168h2v1h-2zM91 169h2v1h-2zM93 170h2v1h-2zM95 171h2v1h-2zM97 172h2v1h-2zM99 173h2v1h-2zM101 174h2v1h-2zM103 175h2v1h-2zM105 176h2v1h-2zM107 177h1v1h-1zM108 178h2v1h-2zM110 179h2v1h-2zM112 180h4v1h-4zM116 181h5v1h-5zM121 182h2v1h-2zM123 183h2v1h-2zM125 184h2v1h-2zM127 185h3v1h-3zM130 186h2v1h-2zM132 187h3v1h-3zM135 188h3v1h-3zM138 189h4v1h-4zM142 190h3v1h-3zM145 191h2v1h-2zM147 192h1v1h-1zM148 193h2v1h-2zM150 194h2v1h-2zM152 195h1v1h-1zM153 196h2v1h-2zM155 197h2v1h-2zM157 198h2v1h-2zM159 199h2v1h-2zM161 200h1v1h-1zM162 201h1v1h-1zM163 202h1v1h-1zM164 203h2v1h-2zM166 204h1v1h-1zM167 205h1v1h-1zM168 206h1v1h-1zM169 207h1v1h-1zM170 208h1v2h-1zM171 210h1v1h-1zM172 211h1v1h-1zM173 212h1v1h-1zM174 213h1v2h-1zM175 215h1v1h-1zM176 216h1v1h-1zM177 217h1v2h-1zM178 219h1v1h-1zM179 220h1v2h-1zM180 222h1v1h-1zM181 223h1v2h-1zM182 225h1v1h-1zM183 226h1v2h-1zM184 228h1v1h-1zM185 229h1v1h-1zM186 230h1v2h-1zM187 232h1v1h-1zM188 233h1v1h-1zM189 234h1v1h-1zM190 235h1v2h-1zM191 237h1v1h-1zM192 238h1v1h-1zM193 239h1v2h-1zM194 241h1v1h-1zM195 242h1v2h-1zM196 244h1v1h-1zM197 245h1v2h-1zM198 247h1v1h-1zM199 248h1v2h-1zM200 250h1v2h-1zM201 252h1v2h-1zM202 254h1v2h-1zM203 256h1v3h-1zM204 259h1v2h-1zM205 261h1v3h-1zM206 264h1v2h-1zM207 266h1v2h-1zM208 268h1v2h-1zM209 270h1v2h-1zM210 272h1v1h-1zM211 273h1v1h-1zM212 274h1v2h-1zM213 276h1v1h-1zM214 277h1v1h-1zM215 278h1v2h-1zM216 280h1v1h-1zM217 281h1v1h-1zM218 282h1v1h-1zM219 283h1v1h-1zM220 284h1v1h-1zM221 285h1v1h-1zM222 286h1v1h-1zM223 287h1v1h-1zM224 288h1v1h-1zM225 289h1v1h-1zM226 290h1v1h-1zM227 291h1v1h-1zM228 292h1v1h-1zM229 293h1v1h-1zM230 294h1v1h-1zM231 295h1v1h-1zM232 296h1v1h-1zM233 297h1v1h-1zM234 298h1v1h-1zM235 299h1v1h-1zM236 300h2v1h-2zM238 301h1v1h-1zM239 302h1v1h-1zM240 303h1v1h-1zM241 304h1v2h-1zM242 306h1v1h-1zM243 307h1v1h-1zM244 308h1v2h-1zM245 310h1v1h-1zM246 311h1v1h-1zM247 312h1v2h-1zM248 314h1v1h-1zM249 315h1v1h-1zM250 316h1v1h-1zM251 317h1v1h-1zM252 318h1v2h-1zM253 320h1v1h-1zM254 321h1v1h-1zM255 322h1v1h-1zM256 323h1v1h-1zM257 324h2v1h-2zM259 325h2v1h-2zM261 326h2v1h-2zM263 327h2v1h-2zM265 328h2v1h-2zM267 329h2v1h-2zM269 330h2v1h-2zM271 331h3v1h-3zM274 332h2v1h-2zM276 333h3v1h-3zM279 334h5v1h-5zM284 335h24v1h-24zM308 334h6v1h-6zM314 333h2v1h-2zM316 332h3v1h-3zM319 331h3v1h-3zM322 330h2v1h-2zM324 329h3v1h-3zM327 328h2v1h-2zM329 327h1v1h-1zM330 326h1v1h-1zM331 325h1v1h-1zM332 324h1v1h-1zM333 323h1v1h-1zM334 322h1v1h-1zM335 321h1v1h-1zM336 320h1v1h-1zM337 319h1v1h-1zM338 318h2v1h-2zM340 317h1v1h-1zM341 316h1v1h-1zM342 315h2v1h-2zM344 314h1v1h-1zM345 313h1v1h-1zM346 312h2v1h-2zM348 311h1v1h-1zM349 310h1v1h-1zM350 309h2v1h-2zM352 308h1v1h-1zM353 307h2v1h-2zM355 306h1v1h-1zM356 305h2v1h-2zM358 304h2v1h-2zM360 303h1v1h-1zM361 302h2v1h-2zM363 301h2v1h-2zM365 300h2v1h-2zM367 299h2v1h-2zM369 298h2v1h-2zM371 297h2v1h-2zM373 296h2v1h-2zM375 295h2v1h-2zM377 294h2v1h-2zM379 293h2v1h-2zM381 292h2v1h-2zM383 291h2v1h-2zM385 290h2v1h-2zM387 289h2v1h-2zM389 288h2v1h-2zM391 287h3v1h-3zM394 286h2v1h-2zM396 285h3v1h-3zM399 284h2v1h-2zM401 283h1v1h-1zM402 282h2v1h-2zM404 281h1v1h-1zM405 280h1v1h-1zM406 279h2v1h-2zM408 278h1v1h-1zM409 277h1v1h-1zM410 276h1v1h-1zM410 275h1v1h-1zM411 274h1v1h-1zM412 273h1v1h-1zM413 272h1v1h-1zM414 271h1v1h-1zM414 270h1v1h-1zM415 269h1v1h-1zM416 268h1v1h-1zM417 267h1v1h-1zM418 266h1v1h-1zM419 265h1v1h-1zM420 264h2v1h-2zM422 263h1v1h-1zM423 262h1v1h-1zM424 261h2v1h-2zM426 260h4v1h-4zM430 259h3v1h-3zM433 258h1v1h-1zM434 257h2v1h-2zM436 256h1v1h-1zM437 255h1v1h-1zM438 254h2v1h-2zM440 253h1v1h-1zM441 252h2v1h-2zM443 251h1v1h-1zM444 250h2v1h-2zM446 249h2v1h-2zM448 248h1v1h-1zM449 247h2v1h-2zM451 246h2v1h-2zM453 245h2v1h-2zM455 244h3v1h-3zM458 243h2v1h-2zM460 242h3v1h-3zM463 241h5v1h-5zM468 240h8v1h-8zM476 239h6v1h-6zM482 240h2v1h-2zM484 241h3v1h-3zM487 242h2v1h-2zM489 243h2v1h-2zM491 244h1v1h-1zM492 245h2v1h-2zM494 246h2v1h-2zM496 247h1v1h-1zM497 248h2v1h-2zM499 249h1v1h-1zM500 250h2v1h-2zM502 251h2v1h-2zM504 252h2v1h-2zM506 253h2v1h-2zM508 254h3v1h-3zM511 255h2v1h-2zM513 256h2v1h-2zM515 257h1v1h-1zM516 258h2v1h-2zM518 259h2v1h-2zM520 260h2v1h-2zM522 261h2v1h-2zM524 262h3v1h-3zM527 263h3v1h-3zM530 264h2v1h-2zM532 265h3v1h-3zM535 266h3v1h-3zM538 267h2v1h-2zM540 268h3v1h-3zM543 269h5v1h-5zM548 268h14v1h-14zM562 267h4v1h-4zM566 266h6v1h-6zM572 267h14v1h-14zM586 268h2v1h-2zM588 269h3v1h-3zM591 270h3v1h-3zM594 271h4v1h-4zM598 272h4v1h-4zM602 273h2v1h-2zM604 274h3v1h-3zM607 275h2v1h-2zM609 276h2v1h-2zM611 277h2v1h-2zM613 278h2v1h-2zM615 279h3v1h-3zM618 280h4v1h-4zM622 281h3v1h-3zM625 282h2v1h-2zM627 283h2v1h-2zM629 284h2v1h-2zM631 285h2v1h-2zM633 286h2v1h-2zM635 287h1v1h-1zM636 288h2v1h-2zM638 289h2v1h-2zM640 290h1v1h-1zM641 291h1v1h-1zM642 292h1v1h-1zM643 293h1v1h-1zM644 294h2v1h-2zM646 295h1v1h-1zM647 296h1v1h-1zM648 297h4v1h-4zM652 298h16v1h-16zM668 299h6v1h-6zM674 300h4v1h-4zM678 301h4v1h-4zM682 302h4v1h-4zM686 303h4v1h-4zM690 304h4v1h-4zM694 305h4v1h-4zM698 306h4v1h-4zM702 307h4v1h-4zM706 308h4v1h-4zM710 309h4v1h-4zM714 310h2v1h-2zM716 311h3v1h-3zM719 312h3v1h-3zM722 313h4v1h-4zM726 314h4v1h-4zM730 315h4v1h-4zM734 316h3v1h-3zM737 317h2v1h-2zM739 318h2v1h-2zM741 319h2v1h-2zM743 320h2v1h-2zM745 321h2v1h-2zM747 322h2v1h-2zM749 323h2v1h-2zM751 324h5v1h-5zM756 325h6v1h-6zM762 326h4v1h-4zM766 327h6v1h-6zM772 328h6v1h-6zM778 329h2v1h-2zM780 330h3v1h-3zM783 331h2v1h-2zM785 332h2v1h-2zM787 333h2v1h-2zM789 334h2v1h-2zM791 335h3v1h-3zM794 336h2v1h-2zM796 337h3v1h-3zM799 338h5v1h-5zM804 337h6v1h-6zM810 336h4v1h-4zM814 335h14v1h-14zM828 336h8v1h-8zM836 335h5v1h-5zM841 334h2v1h-2zM843 333h2v1h-2zM845 332h2v1h-2zM847 331h3v1h-3zM850 330h2v1h-2zM852 329h3v1h-3zM855 328h10v1h-10zM865 327h2v1h-2zM867 326h2v1h-2zM869 325h2v1h-2zM871 324h3v1h-3zM874 323h4v1h-4zM878 322h6v1h-6zM884 321h6v1h-6zM890 320h4v1h-4zM894 319h6v1h-6zM900 318h6v1h-6zM906 317h4v1h-4zM910 316h4v1h-4zM914 315h2v1h-2zM916 314h3v1h-3zM919 313h5v1h-5zM924 312h5v1h-5zM929 311h2v1h-2zM931 310h2v1h-2zM933 309h2v1h-2zM935 308h5v1h-5zM940 307h6v1h-6zM946 306h2v1h-2zM948 305h3v1h-3zM951 304h2v1h-2zM953 303h2v1h-2zM955 302h2v1h-2zM957 301h2v1h-2zM959 300h2v1h-2zM961 299h2v1h-2zM963 298h2v1h-2zM965 297h2v1h-2zM967 296h5v1h-5zM972 295h14v1h-14zM986 294h2v1h-2zM988 293h3v1h-3zM991 292h10v1h-10zM1001 293h2v1h-2zM1003 294h2v1h-2zM1005 295h2v1h-2zM1007 296h3v1h-3zM1010 297h2v1h-2zM1012 298h3v1h-3zM1015 299h3v1h-3zM1018 300h2v1h-2zM1020 301h3v1h-3zM1023 302h5v1h-5zM1028 303h6v1h-6zM1034 304h2v1h-2zM1036 305h3v1h-3zM1039 306h3v1h-3zM1042 307h4v1h-4zM1046 308h4v1h-4zM1050 309h2v1h-2zM1052 310h3v1h-3zM1055 311h2v1h-2zM1057 312h2v1h-2zM1059 313h1v1h-1zM1060 314h2v1h-2zM1062 315h2v1h-2zM1064 316h1v1h-1zM1065 317h2v1h-2zM1067 318h2v1h-2zM1069 319h2v1h-2zM1071 320h2v1h-2zM1073 321h1v1h-1zM1074 322h1v1h-1zM1075 323h1v1h-1zM1076 324h1v1h-1zM1077 325h1v1h-1zM1078 326h1v1h-1zM1079 327h1v1h-1zM1080 328h1v1h-1zM1081 329h1v1h-1zM1082 330h1v1h-1zM1083 331h1v1h-1zM1084 332h2v1h-2zM1086 333h1v1h-1zM1087 334h1v1h-1zM1088 335h1v1h-1zM1089 336h2v1h-2zM1091 337h1v1h-1zM1092 338h2v1h-2zM1094 339h2v1h-2zM1096 340h1v1h-1zM1097 341h1v1h-1zM1098 342h1v1h-1zM1099 343h1v1h-1zM1100 344h2v1h-2zM1102 345h1v1h-1zM1103 346h1v1h-1zM1104 347h1v1h-1zM1105 348h1v1h-1zM1106 349h1v1h-1zM1107 350h1v1h-1zM1108 351h1v2h-1zM1109 353h1v1h-1zM1110 354h1v1h-1zM1111 355h1v1h-1zM1112 356h1v1h-1zM1113 357h2v1h-2zM1115 358h1v1h-1zM1116 359h2v1h-2zM1118 360h2v1h-2zM1120 361h1v1h-1z"/>
<rect x="840" y="220" width="401" height="5" fill="#ff3333"/>
<rect x="838" y="350" width="401" height="5" fill="#99cc00"/>
<polygon points="1134,31 1144,31 1139,36" fill="#c0c0c0"/>
<rect x="8" y="595" width="1" height="21" fill="#c0c0c0"/>
<rect x="16" y="591" width="1" height="25" fill="#c0c0c0"/>
<rect x="24" y="590" width="1" height="26" fill="#c0c0c0"/>
<rect x="32" y="586" width="1" height="30" fill="#c0c0c0"/>
<rect x="40" y="585" width="1" height="31" fill="#c0c0c0"/>
<rect x="48" y="585" width="1" height="31" fill="#c0c0c0"/>
<rect x="56" y="589" width="1" height="27" fill="#c0c0c0"/>
<rect x="64" y="592" width="1" height="24" fill="#c0c0c0"/>
<rect x="72" y="599" width="1" height="17" fill="#c0c0c0"/>
<rect x="80" y="608" width="1" height="8" fill="#c0c0c0"/>
<rect x="88" y="614" width="1" height="2" fill="#c0c0c0"/>
<rect x="96" y="615" width="1" height="1" fill="#c0c0c0"/>
<rect x="104" y="615" width="1" height="2" fill="#c0c0c0"/>
<rect x="112" y="615" width="1" height="4" fill="#c0c0c0"/>
<rect x="120" y="615" width="1" height="8" fill="#c0c0c0"/>
<rect x="128" y="615" width="1" height="11" fill="#c0c0c0"/>
<rect x="136" y="615" width="1" height="14" fill="#c0c0c0"/>
<rect x="144" y="615" width="1" height="15" fill="#c0c0c0"/>
<rect x="152" y="615" width="1" height="21" fill="#c0c0c0"/>
<rect x="160" y="615" width="1" height="25" fill="#c0c0c0"/>
<rect x="168" y="615" width="1" height="34" fill="#c0c0c0"/>
<rect x="176" y="615" width="1" height="40" fill="#c0c0c0"/>
<rect x="184" y="615" width="1" height="45" fill="#c0c0c0"/>
<rect x="192" y="615" width="1" height="48" fill="#c0c0c0"/>
<rect x="200" y="615" width="1" height="47" fill="#c0c0c0"/>
<rect x="208" y="615" width="1" height="49" fill="#c0c0c0"/>
<rect x="216" y="615" width="1" height="49" fill="#c0c0c0"/>
<rect x="224" y="615" width="1" height="49" fill="#c0c0c0"/>
<rect x="232" y="615" width="1" height="48" fill="#c0c0c0"/>
<rect x="240" y="615" width="1" height="47" fill="#c0c0c0"/>
<rect x="248" y="615" width="1" height="55" fill="#c0c0c0"/>
<rect x="256" y="615" width="1" height="55" fill="#c0c0c0"/>
<rect x="264" y="615" width="1" height="45" fill="#c0c0c0"/>
<rect x="272" y="615" width="1" height="36" fill="#c0c0c0"/>
<rect x="280" y="615" width="1" height="28" fill="#c0c0c0"/>
<rect x="288" y="615" width="1" height="19" fill="#c0c0c0"/>
<rect x="296" y="615" width="1" height="11" fill="#c0c0c0"/>
<rect x="304" y="615" width="1" height="4" fill="#c0c0c0"/>
<rect x="312" y="612" width="1" height="4" fill="#c0c0c0"/>
<rect x="320" y="607" width="1" height="9" fill="#c0c0c0"/>
<rect x="328" y="603" width="1" height="13" fill="#c0c0c0"/>
<rect x="336" y="600" width="1" height="16" fill="#c0c0c0"/>
<rect x="344" y="600" width="1" height="16" fill="#c0c0c0"/>
<rect x="352" y="599" width="1" height="17" fill="#c0c0c0"/>
<rect x="360" y="600" width="1" height="16" fill="#c0c0c0"/>
<rect x="368" y="601" width="1" height="15" fill="#c0c0c0"/>
<rect x="376" y="602" width="1" height="14" fill="#c0c0c0"/>
<rect x="384" y="607" width="1" height="9" fill="#c0c0c0"/>
<rect x="392" y="609" width="1" height="7" fill="#c0c0c0"/>
<rect x="400" y="614" width="1" height="2" fill="#c0c0c0"/>
<rect x="408" y="612" width="1" height="4" fill="#c0c0c0"/>
<rect x="416" y="610" width="1" height="6" fill="#c0c0c0"/>
<rect x="424" y="610" width="1" height="6" fill="#c0c0c0"/>
<rect x="432" y="610" width="1" height="6" fill="#c0c0c0"/>
<rect x="440" y="603" width="1" height="13" fill="#c0c0c0"/>
<rect x="448" y="596" width="1" height="20" fill="#c0c0c0"/>
<rect x="456" y="593" width="1" height="23" fill="#c0c0c0"/>
<rect x="464" y="591" width="1" height="25" fill="#c0c0c0"/>
<rect x="472" y="592" width="1" height="24" fill="#c0c0c0"/>
<rect x="480" y="591" width="1" height="25" fill="#c0c0c0"/>
<rect x="488" y="601" width="1" height="15" fill="#c0c0c0"/>
<rect x="496" y="610" width="1" height="6" fill="#c0c0c0"/>
<rect x="504" y="615" width="1" height="1" fill="#c0c0c0"/>
<rect x="512" y="615" width="1" height="6" fill="#c0c0c0"/>
<rect x="520" y="615" width="1" height="13" fill="#c0c0c0"/>
<rect x="528" y="615" width="1" height="15" fill="#c0c0c0"/>
<rect x="536" y="615" width="1" height="17" fill="#c0c0c0"/>
<rect x="544" y="615" width="1" height="17" fill="#c0c0c0"/>
<rect x="552" y="615" width="1" height="15" fill="#c0c0c0"/>
<rect x="560" y="615" width="1" height="12" fill="#c0c0c0"/>
<rect x="568" y="615" width="1" height="11" fill="#c0c0c0"/>
<rect x="576" y="615" width="1" height="8" fill="#c0c0c0"/>
<rect x="584" y="615" width="1" height="5" fill="#c0c0c0"/>
<rect x="592" y="615" width="1" height="7" fill="#c0c0c0"/>
<rect x="600" y="615" width="1" height="6" fill="#c0c0c0"/>
<rect x="608" y="615" width="1" height="4" fill="#c0c0c0"/>
<rect x="616" y="615" width="1" height="1" fill="#c0c0c0"/>
<rect x="624" y="614" width="1" height="2" fill="#c0c0c0"/>
<rect x="632" y="614" width="1" height="2" fill="#c0c0c0"/>
<rect x="640" y="615" width="1" height="2" fill="#c0c0c0"/>
<rect x="648" y="615" width="1" height="7" fill="#c0c0c0"/>
<rect x="656" y="615" width="1" height="9" fill="#c0c0c0"/>
<rect x="664" y="615" width="1" height="11" fill="#c0c0c0"/>
<rect x="672" y="615" width="1" height="13" fill="#c0c0c0"/>
<rect x="680" y="615" width="1" height="18" fill="#c0c0c0"/>
<rect x="688" y="615" width="1" height="23" fill="#c0c0c0"/>
<rect x="696" y="615" width="1" height="25" fill="#c0c0c0"/>
<rect x="704" y="615" width="1" height="26" fill="#c0c0c0"/>
<rect x="712" y="615" width="1" height="25" fill="#c0c0c0"/>
<rect x="720" y="615" width="1" height="24" fill="#c0c0c0"/>
<rect x="728" y="615" width="1" height="22" fill="#c0c0c0"/>
<rect x="736" y="615" width="1" height="20" fill="#c0c0c0"/>
<rect x="744" y="615" width="1" height="18" fill="#c0c0c0"/>
<rect x="752" y="615" width="1" height="16" fill="#c0c0c0"/>
<rect x="760" y="615" width="1" height="13" fill="#c0c0c0"/>
<rect x="768" y="615" width="1" height="12" fill="#c0c0c0"/>
<rect x="776" y="615" width="1" height="7" fill="#c0c0c0"/>
<rect x="784" y="615" width="1" height="5" fill="#c0c0c0"/>
<rect x="792" y="615" width="1" height="6" fill="#c0c0c0"/>
<rect x="800" y="615" width="1" height="6" fill="#c0c0c0"/>
<rect x="808" y="615" width="1" height="3" fill="#c0c0c0"/>
<rect x="816" y="615" width="1" height="1" fill="#c0c0c0"/>
<rect x="824" y="615" width="1" height="1" fill="#c0c0c0"/>
<rect x="832" y="615" width="1" height="1" fill="#c0c0c0"/>
<rect x="840" y="615" width="1" height="1" fill="#c0c0c0"/>
<rect x="848" y="615" width="1" height="1" fill="#c0c0c0"/>
<rect x="856" y="615" width="1" height="1" fill="#c0c0c0"/>
<rect x="864" y="615" width="1" height="1" fill="#c0c0c0"/>
<rect x="872" y="615" width="1" height="1" fill="#c0c0c0"/>
<rect x="880" y="615" width="1" height="1" fill="#c0c0c0"/>
<rect x="888" y="615" width="1" height="1" fill="#c0c0c0"/>
<rect x="896" y="614" width="1" height="2" fill="#c0c0c0"/>
<rect x="904" y="614" width="1" height="2" fill="#c0c0c0"/>
<rect x="912" y="612" width="1" height="4" fill="#c0c0c0"/>
<rect x="920" y="608" width="1" height="8" fill="#c0c0c0"/>
<rect x="928" y="608" width="1" height="8" fill="#c0c0c0"/>
<rect x="936" y="604" width="1" height="12" fill="#c0c0c0"/>
<rect x="944" y="602" width="1" height="14" fill="#c0c0c0"/>
<rect x="952" y="600" width="1" height="16" fill="#c0c0c0"/>
<rect x="960" y="599" width="1" height="17" fill="#c0c0c0"/>
<rect x="968" y="598" width="1" height="18" fill="#c0c0c0"/>
<rect x="976" y="599" width="1" height="17" fill="#c0c0c0"/>
<rect x="984" y="600" width="1" height="16" fill="#c0c0c0"/>
<rect x="992" y="603" width="1" height="13" fill="#c0c0c0"/>
<rect x="1000" y="607" width="1" height="9" fill="#c0c0c0"/>
<rect x="1008" y="615" width="1" height="1" fill="#c0c0c0"/>
<rect x="1016" y="615" width="1" height="9" fill="#c0c0c0"/>
<rect x="1024" y="615" width="1" height="13" fill="#c0c0c0"/>
<rect x="1032" y="615" width="1" height="16" fill="#c0c0c0"/>
<rect x="1040" y="615" width="1" height="17" fill="#c0c0c0"/>
<rect x="1048" y="615" width="1" height="18" fill="#c0c0c0"/>
<rect x="1056" y="615" width="1" height="21" fill="#c0c0c0"/>
<rect x="1064" y="615" width="1" height="25" fill="#c0c0c0"/>
<rect x="1072" y="615" width="1" height="27" fill="#c0c0c0"/>
<rect x="1080" y="615" width="1" height="30" fill="#c0c0c0"/>
<rect x="1088" y="615" width="1" height="31" fill="#c0c0c0"/>
<rect x="1096" y="615" width="1" height="31" fill="#c0c0c0"/>
<rect x="1104" y="615" width="1" height="31" fill="#c0c0c0"/>
<rect x="1112" y="615" width="1" height="31" fill="#c0c0c0"/>
<rect x="1120" y="615" width="1" height="30" fill="#c0c0c0"/>
<path fill="#ff0000" d="M8 588h3v1h-3zM14 589h3v1h-3zM20 590h3v1h-3zM26 590h3v1h-3zM32 590h3v1h-3zM38 590h3v1h-3zM44 589h3v1h-3zM50 589h2v1h-2zM52 588h1v1h-1zM56 588h3v1h-3zM62 587h3v1h-3zM68 587h3v1h-3zM74 588h3v1h-3zM80 589h2v1h-2zM82 590h1v1h-1zM86 591h3v1h-3zM92 593h3v1h-3zM98 595h1v1h-1zM99 596h2v1h-2zM104 598h1v1h-1zM105 599h2v1h-2zM110 602h2v1h-2zM112 603h1v1h-1zM116 605h1v1h-1zM117 606h2v1h-2zM122 608h1v1h-1zM123 609h1v1h-1zM124 610h1v1h-1zM128 612h2v1h-2zM130 613h1v1h-1zM134 614h1v1h-1zM135 615h2v1h-2zM140 618h2v1h-2zM142 619h1v1h-1zM146 621h2v1h-2zM148 622h1v1h-1zM152 623h2v1h-2zM154 624h1v1h-1zM158 625h1v1h-1zM159 626h2v1h-2zM164 628h1v1h-1zM165 629h2v1h-2zM170 631h1v1h-1zM171 632h1v1h-1zM172 633h1v1h-1zM176 635h1v1h-1zM177 636h2v1h-2zM182 638h1v1h-1zM183 639h2v1h-2zM188 641h1v1h-1zM189 642h2v1h-2zM194 644h1v1h-1zM195 645h2v1h-2zM200 647h1v1h-1zM201 648h2v1h-2zM206 650h1v1h-1zM207 651h2v1h-2zM212 653h1v1h-1zM213 654h2v1h-2zM218 656h2v1h-2zM220 657h1v1h-1zM224 658h2v1h-2zM226 659h1v1h-1zM230 660h1v1h-1zM231 661h2v1h-2zM236 662h3v1h-3zM242 663h3v1h-3zM248 664h3v1h-3zM254 665h3v1h-3zM260 665h3v1h-3zM266 665h2v1h-2zM268 664h1v1h-1zM272 664h2v1h-2zM274 663h1v1h-1zM278 662h1v1h-1zM279 661h2v1h-2zM284 659h3v1h-3zM290 657h1v1h-1zM291 656h1v1h-1zM292 655h1v1h-1zM296 653h1v1h-1zM297 652h2v1h-2zM302 650h1v1h-1zM303 649h2v1h-2zM308 646h1v1h-1zM309 645h1v1h-1zM310 644h1v1h-1zM314 641h1v1h-1zM315 640h1v1h-1zM316 639h1v1h-1zM320 636h1v1h-1zM321 635h1v1h-1zM322 634h1v1h-1zM326 630h1v1h-1zM327 629h1v1h-1zM328 628h1v1h-1zM332 625h1v1h-1zM333 624h1v1h-1zM334 623h1v1h-1zM338 620h1v1h-1zM339 619h1v1h-1zM340 618h1v1h-1zM344 615h1v1h-1zM345 614h2v1h-2zM350 611h2v1h-2zM352 610h1v1h-1zM356 608h3v1h-3zM362 606h2v1h-2zM364 605h1v1h-1zM368 604h2v1h-2zM370 603h1v1h-1zM374 602h3v1h-3zM380 601h3v1h-3zM386 601h2v1h-2zM388 602h1v1h-1zM392 602h3v1h-3zM398 603h3v1h-3zM404 604h3v1h-3zM410 604h2v1h-2zM412 605h1v1h-1zM416 605h3v1h-3zM422 606h3v1h-3zM428 607h3v1h-3zM434 607h2v1h-2zM436 608h1v1h-1zM440 608h3v1h-3zM446 607h3v1h-3zM452 606h2v1h-2zM454 605h1v1h-1zM458 604h3v1h-3zM464 603h2v1h-2zM466 602h1v1h-1zM470 601h3v1h-3zM476 600h2v1h-2zM478 599h1v1h-1zM482 599h2v1h-2zM484 598h1v1h-1zM488 598h3v1h-3zM494 598h3v1h-3zM500 598h3v1h-3zM506 599h3v1h-3zM512 600h1v1h-1zM513 601h2v1h-2zM518 603h1v1h-1zM519 604h2v1h-2zM524 606h1v1h-1zM525 607h2v1h-2zM530 609h1v1h-1zM531 610h1v1h-1zM532 611h1v1h-1zM536 613h1v1h-1zM537 614h2v1h-2zM542 616h1v1h-1zM543 617h2v1h-2zM548 620h2v1h-2zM550 621h1v1h-1zM554 623h2v1h-2zM556 624h1v1h-1zM560 625h2v1h-2zM562 626h1v1h-1zM566 627h3v1h-3zM572 628h2v1h-2zM574 629h1v1h-1zM578 629h2v1h-2zM580 628h1v1h-1zM584 628h3v1h-3zM590 627h3v1h-3zM596 626h3v1h-3zM602 626h2v1h-2zM604 625h1v1h-1zM608 625h2v1h-2zM610 624h1v1h-1zM614 623h3v1h-3zM620 621h3v1h-3zM626 620h2v1h-2zM628 619h1v1h-1zM632 619h3v1h-3zM638 618h3v1h-3zM644 618h3v1h-3zM650 618h2v1h-2zM652 619h1v1h-1zM656 619h3v1h-3zM662 619h3v1h-3zM668 620h3v1h-3zM674 620h2v1h-2zM676 621h1v1h-1zM680 621h2v1h-2zM682 622h1v1h-1zM686 623h1v1h-1zM687 624h2v1h-2zM692 626h3v1h-3zM698 628h3v1h-3zM704 629h1v1h-1zM705 630h2v1h-2zM710 632h1v1h-1zM711 633h2v1h-2zM716 634h2v1h-2zM718 635h1v1h-1zM722 635h2v1h-2zM724 636h1v1h-1zM728 636h3v1h-3zM734 637h3v1h-3zM740 637h3v1h-3zM746 637h3v1h-3zM752 637h3v1h-3zM758 636h3v1h-3zM764 635h3v1h-3zM770 634h2v1h-2zM772 633h1v1h-1zM776 632h2v1h-2zM778 631h1v1h-1zM782 630h3v1h-3zM788 628h3v1h-3zM794 627h2v1h-2zM796 626h1v1h-1zM800 626h3v1h-3zM806 625h3v1h-3zM812 623h3v1h-3zM818 622h2v1h-2zM820 621h1v1h-1zM824 621h3v1h-3zM830 620h3v1h-3zM836 619h3v1h-3zM842 619h2v1h-2zM844 618h1v1h-1zM848 618h3v1h-3zM854 617h3v1h-3zM860 617h3v1h-3zM866 617h2v1h-2zM868 616h1v1h-1zM872 616h3v1h-3zM878 616h3v1h-3zM884 616h3v1h-3zM890 616h3v1h-3zM896 616h3v1h-3zM902 615h3v1h-3zM908 614h3v1h-3zM914 614h3v1h-3zM920 614h3v1h-3zM926 613h3v1h-3zM932 612h2v1h-2zM934 611h1v1h-1zM938 610h3v1h-3zM944 609h3v1h-3zM950 608h3v1h-3zM956 607h2v1h-2zM958 606h1v1h-1zM962 605h3v1h-3zM968 604h2v1h-2zM970 603h1v1h-1zM974 602h3v1h-3zM980 601h3v1h-3zM986 601h2v1h-2zM988 600h1v1h-1zM992 600h3v1h-3zM998 600h3v1h-3zM1004 601h2v1h-2zM1006 602h1v1h-1zM1010 603h3v1h-3zM1016 604h1v1h-1zM1017 605h2v1h-2zM1022 607h1v1h-1zM1023 608h2v1h-2zM1028 610h3v1h-3zM1034 612h1v1h-1zM1035 613h2v1h-2zM1040 615h1v1h-1zM1041 616h2v1h-2zM1046 618h1v1h-1zM1047 619h2v1h-2zM1052 621h1v1h-1zM1053 622h2v1h-2zM1058 624h1v1h-1zM1059 625h2v1h-2zM1064 627h1v1h-1zM1065 628h2v1h-2zM1070 630h1v1h-1zM1071 631h2v1h-2zM1076 633h1v1h-1zM1077 634h2v1h-2zM1082 636h3v1h-3zM1088 637h2v1h-2zM1090 638h1v1h-1zM1094 639h3v1h-3zM1100 640h2v1h-2zM1102 641h1v1h-1zM1106 641h2v1h-2zM1108 642h1v1h-1zM1112 642h2v1h-2zM1114 643h1v1h-1zM1118 644h3v1h-3z"/>
<path fill="#c0c0c0" d="M9 718h3v1h-3zM15 718h3v1h-3zM21 718h3v1h-3zM27 718h3v1h-3zM33 718h3v1h-3zM39 718h3v1h-3zM45 718h3v1h-3zM51 718h3v1h-3zM57 718h3v1h-3zM63 718h3v1h-3zM69 718h3v1h-3zM75 718h3v1h-3zM81 718h3v1h-3zM87 718h3v1h-3zM93 718h3v1h-3zM99 718h3v1h-3zM105 718h3v1h-3zM111 718h3v1h-3zM117 718h3v1h-3zM123 718h3v1h-3zM129 718h3v1h-3zM135 718h3v1h-3zM141 718h3v1h-3zM147 718h3v1h-3zM153 718h3v1h-3zM159 718h3v1h-3zM165 718h3v1h-3zM171 718h3v1h-3zM177 718h3v1h-3zM183 718h3v1h-3zM189 718h3v1h-3zM195 718h3v1h-3zM201 718h3v1h-3zM207 718h3v1h-3zM213 718h3v1h-3zM219 718h3v1h-3zM225 718h3v1h-3zM231 718h3v1h-3zM237 718h3v1h-3zM243 718h3v1h-3zM249 718h3v1h-3zM255 718h3v1h-3zM261 718h3v1h-3zM267 718h3v1h-3zM273 718h3v1h-3zM279 718h3v1h-3zM285 718h3v1h-3zM291 718h3v1h-3zM297 718h3v1h-3zM303 718h3v1h-3zM309 718h3v1h-3zM315 718h3v1h-3zM321 718h3v1h-3zM327 718h3v1h-3zM333 718h3v1h-3zM339 718h3v1h-3zM345 718h3v1h-3zM351 718h3v1h-3zM357 718h3v1h-3zM363 718h3v1h-3zM369 718h3v1h-3zM375 718h3v1h-3zM381 718h3v1h-3zM387 718h3v1h-3zM393 718h3v1h-3zM399 718h3v1h-3zM405 718h3v1h-3zM411 718h3v1h-3zM417 718h3v1h-3zM423 718h3v1h-3zM429 718h3v1h-3zM435 718h3v1h-3zM441 718h3v1h-3zM447 718h3v1h-3zM453 718h3v1h-3zM459 718h3v1h-3zM465 718h3v1h-3zM471 718h3v1h-3zM477 718h3v1h-3zM483 718h3v1h-3zM489 718h3v1h-3zM495 718h3v1h-3zM501 718h3v1h-3zM507 718h3v1h-3zM513 718h3v1h-3zM519 718h3v1h-3zM525 718h3v1h-3zM531 718h3v1h-3zM537 718h3v1h-3zM543 718h3v1h-3zM549 718h3v1h-3zM555 718h3v1h-3zM561 718h3v1h-3zM567 718h3v1h-3zM573 718h3v1h-3zM579 718h3v1h-3zM585 718h3v1h-3zM591 718h3v1h-3zM597 718h3v1h-3zM603 718h3v1h-3zM609 718h3v1h-3zM615 718h3v1h-3zM621 718h3v1h-3zM627 718h3v1h-3zM633 718h3v1h-3zM639 718h3v1h-3zM645 718h3v1h-3zM651 718h3v1h-3zM657 718h3v1h-3zM663 718h3v1h-3zM669 718h3v1h-3zM675 718h3v1h-3zM681 718h3v1h-3zM687 718h3v1h-3zM693 718h3v1h-3zM699 718h3v1h-3zM705 718h3v1h-3zM711 718h3v1h-3zM717 718h3v1h-3zM723 718h3v1h-3zM729 718h3v1h-3zM735 718h3v1h-3zM741 718h3v1h-3zM747 718h3v1h-3zM753 718h3v1h-3zM759 718h3v1h-3zM765 718h3v1h-3zM771 718h3v1h-3zM777 718h3v1h-3zM783 718h3v1h-3zM789 718h3v1h-3zM795 718h3v1h-3zM801 718h3v1h-3zM807 718h3v1h-3zM813 718h3v1h-3zM819 718h3v1h-3zM825 718h3v1h-3zM831 718h3v1h-3zM837 718h3v1h-3zM843 718h3v1h-3zM849 718h3v1h-3zM855 718h3v1h-3zM861 718h3v1h-3zM867 718h3v1h-3zM873 718h3v1h-3zM879 718h3v1h-3zM885 718h3v1h-3zM891 718h3v1h-3zM897 718h3v1h-3zM903 718h3v1h-3zM909 718h3v1h-3zM915 718h3v1h-3zM921 718h3v1h-3zM927 718h3v1h-3zM933 718h3v1h-3zM939 718h3v1h-3zM945 718h3v1h-3zM951 718h3v1h-3zM957 718h3v1h-3zM963 718h3v1h-3zM969 718h3v1h-3zM975 718h3v1h-3zM981 718h3v1h-3zM987 718h3v1h-3zM993 718h3v1h-3zM999 718h3v1h-3zM1005 718h3v1h-3zM1011 718h3v1h-3zM1017 718h3v1h-3zM1023 718h3v1h-3zM1029 718h3v1h-3zM1035 718h3v1h-3zM1041 718h3v1h-3zM1047 718h3v1h-3zM1053 718h3v1h-3zM1059 718h3v1h-3zM1065 718h3v1h-3zM1071 718h3v1h-3zM1077 718h3v1h-3zM1083 718h3v1h-3zM1089 718h3v1h-3zM1095 718h3v1h-3zM1101 718h3v1h-3zM1107 718h3v1h-3zM1113 718h3v1h-3zM1119 718h3v1h-3zM1125 718h3v1h-3zM1131 718h3v1h-3zM1137 718h3v1h-3zM1143 718h3v1h-3zM1149 718h3v1h-3zM1155 718h3v1h-3zM1161 718h3v1h-3zM1167 718h3v1h-3zM1173 718h3v1h-3zM1179 718h3v1h-3zM1185 718h3v1h-3zM1191 718h3v1h-3zM1197 718h3v1h-3zM1203 718h3v1h-3zM1209 718h3v1h-3zM1215 718h3v1h-3zM1221 718h3v1h-3zM1227 718h3v1h-3zM1233 718h3v1h-3zM1239 718h3v1h-3zM1245 718h3v1h-3zM1251 718h3v1h-3zM1257 718h3v1h-3zM1263 718h3v1h-3zM1269 718h3v1h-3zM1275 718h3v1h-3zM1281 718h3v1h-3zM1287 718h3v1h-3zM1293 718h3v1h-3zM1299 718h3v1h-3zM1305 718h3v1h-3zM1311 718h3v1h-3zM1317 718h3v1h-3zM1323 718h3v1h-3zM1329 718h3v1h-3zM1335 718h3v1h-3zM1341 718h3v1h-3zM1347 718h3v1h-3zM1353 718h3v1h-3zM1359 718h3v1h-3zM1365 718h3v1h-3zM1371 718h3v1h-3zM1377 718h3v1h-3zM1383 718h3v1h-3zM1389 718h3v1h-3zM1395 718h3v1h-3zM1401 718h3v1h-3zM1407 718h3v1h-3zM1413 718h3v1h-3zM1419 718h3v1h-3z"/>
<path fill="#c0c0c0" d="M9 769h3v1h-3zM15 769h3v1h-3zM21 769h3v1h-3zM27 769h3v1h-3zM33 769h3v1h-3zM39 769h3v1h-3zM45 769h3v1h-3zM51 769h3v1h-3zM57 769h3v1h-3zM63 769h3v1h-3zM69 769h3v1h-3zM75 769h3v1h-3zM81 769h3v1h-3zM87 769h3v1h-3zM93 769h3v1h-3zM99 769h3v1h-3zM105 769h3v1h-3zM111 769h3v1h-3zM117 769h3v1h-3zM123 769h3v1h-3zM129 769h3v1h-3zM135 769h3v1h-3zM141 769h3v1h-3zM147 769h3v1h-3zM153 769h3v1h-3zM159 769h3v1h-3zM165 769h3v1h-3zM171 769h3v1h-3zM177 769h3v1h-3zM183 769h3v1h-3zM189 769h3v1h-3zM195 769h3v1h-3zM201 769h3v1h-3zM207 769h3v1h-3zM213 769h3v1h-3zM219 769h3v1h-3zM225 769h3v1h-3zM231 769h3v1h-3zM237 769h3v1h-3zM243 769h3v1h-3zM249 769h3v1h-3zM255 769h3v1h-3zM261 769h3v1h-3zM267 769h3v1h-3zM273 769h3v1h-3zM279 769h3v1h-3zM285 769h3v1h-3zM291 769h3v1h-3zM297 769h3v1h-3zM303 769h3v1h-3zM309 769h3v1h-3zM315 769h3v1h-3zM321 769h3v1h-3zM327 769h3v1h-3zM333 769h3v1h-3zM339 769h3v1h-3zM345 769h3v1h-3zM351 769h3v1h-3zM357 769h3v1h-3zM363 769h3v1h-3zM369 769h3v1h-3zM375 769h3v1h-3zM381 769h3v1h-3zM387 769h3v1h-3zM393 769h3v1h-3zM399 769h3v1h-3zM405 769h3v1h-3zM411 769h3v1h-3zM417 769h3v1h-3zM423 769h3v1h-3zM429 769h3v1h-3zM435 769h3v1h-3zM441 769h3v1h-3zM447 769h3v1h-3zM453 769h3v1h-3zM459 769h3v1h-3zM465 769h3v1h-3zM471 769h3v1h-3zM477 769h3v1h-3zM483 769h3v1h-3zM489 769h3v1h-3zM495 769h3v1h-3zM501 769h3v1h-3zM507 769h3v1h-3zM513 769h3v1h-3zM519 769h3v1h-3zM525 769h3v1h-3zM531 769h3v1h-3zM537 769h3v1h-3zM543 769h3v1h-3zM549 769h3v1h-3zM555 769h3v1h-3zM561 769h3v1h-3zM567 769h3v1h-3zM573 769h3v1h-3zM579 769h3v1h-3zM585 769h3v1h-3zM591 769h3v1h-3zM597 769h3v1h-3zM603 769h3v1h-3zM609 769h3v1h-3zM615 769h3v1h-3zM621 769h3v1h-3zM627 769h3v1h-3zM633 769h3v1h-3zM639 769h3v1h-3zM645 769h3v1h-3zM651 769h3v1h-3zM657 769h3v1h-3zM663 769h3v1h-3zM669 769h3v1h-3zM675 769h3v1h-3zM681 769h3v1h-3zM687 769h3v1h-3zM693 769h3v1h-3zM699 769h3v1h-3zM705 769h3v1h-3zM711 769h3v1h-3zM717 769h3v1h-3zM723 769h3v1h-3zM729 769h3v1h-3zM735 769h3v1h-3zM741 769h3v1h-3zM747 769h3v1h-3zM753 769h3v1h-3zM759 769h3v1h-3zM765 769h3v1h-3zM771 769h3v1h-3zM777 769h3v1h-3zM783 769h3v1h-3zM789 769h3v1h-3zM795 769h3v1h-3zM801 769h3v1h-3zM807 769h3v1h-3zM813 769h3v1h-3zM819 769h3v1h-3zM825 769h3v1h-3zM831 769h3v1h-3zM837 769h3v1h-3zM843 769h3v1h-3zM849 769h3v1h-3zM855 769h3v1h-3zM861 769h3v1h-3zM867 769h3v1h-3zM873 769h3v1h-3zM879 769h3v1h-3zM885 769h3v1h-3zM891 769h3v1h-3zM897 769h3v1h-3zM903 769h3v1h-3zM909 769h3v1h-3zM915 769h3v1h-3zM921 769h3v1h-3zM927 769h3v1h-3zM933 769h3v1h-3zM939 769h3v1h-3zM945 769h3v1h-3zM951 769h3v1h-3zM957 769h3v1h-3zM963 769h3v1h-3zM969 769h3v1h-3zM975 769h3v1h-3zM981 769h3v1h-3zM987 769h3v1h-3zM993 769h3v1h-3zM999 769h3v1h-3zM1005 769h3v1h-3zM1011 769h3v1h-3zM1017 769h3v1h-3zM1023 769h3v1h-3zM1029 769h3v1h-3zM1035 769h3v1h-3zM1041 769h3v1h-3zM1047 769h3v1h-3zM1053 769h3v1h-3zM1059 769h3v1h-3zM1065 769h3v1h-3zM1071 769h3v1h-3zM1077 769h3v1h-3zM1083 769h3v1h-3zM1089 769h3v1h-3zM1095 769h3v1h-3zM1101 769h3v1h-3zM1107 769h3v1h-3zM1113 769h3v1h-3zM1119 769h3v1h-3zM1125 769h3v1h-3zM1131 769h3v1h-3zM1137 769h3v1h-3zM1143 769h3v1h-3zM1149 769h3v1h-3zM1155 769h3v1h-3zM1161 769h3v1h-3zM1167 769h3v1h-3zM1173 769h3v1h-3zM1179 769h3v1h-3zM1185 769h3v1h-3zM1191 769h3v1h-3zM1197 769h3v1h-3zM1203 769h3v1h-3zM1209 769h3v1h-3zM1215 769h3v1h-3zM1221 769h3v1h-3zM1227 769h3v1h-3zM1233 769h3v1h-3zM1239 769h3v1h-3zM1245 769h3v1h-3zM1251 769h3v1h-3zM1257 769h3v1h-3zM1263 769h3v1h-3zM1269 769h3v1h-3zM1275 769h3v1h-3zM1281 769h3v1h-3zM1287 769h3v1h-3zM1293 769h3v1h-3zM1299 769h3v1h-3zM1305 769h3v1h-3zM1311 769h3v1h-3zM1317 769h3v1h-3zM1323 769h3v1h-3zM1329 769h3v1h-3zM1335 769h3v1h-3zM1341 769h3v1h-3zM1347 769h3v1h-3zM1353 769h3v1h-3zM1359 769h3v1h-3zM1365 769h3v1h-3zM1371 769h3v1h-3zM1377 769h3v1h-3zM1383 769h3v1h-3zM1389 769h3v1h-3zM1395 769h3v1h-3zM1401 769h3v1h-3zM1407 769h3v1h-3zM1413 769h3v1h-3zM1419 769h3v1h-3z"/>
<path fill="#1e90ff" d="M8 731h2v1h-2zM10 730h2v1h-2zM12 729h3v1h-3zM15 728h2v1h-2zM17 729h2v1h-2zM19 730h2v1h-2zM21 731h2v1h-2zM23 732h2v1h-2zM25 731h1v1h-1zM26 730h1v1h-1zM27 729h1v1h-1zM28 728h1v1h-1zM28 727h1v1h-1zM29 726h1v1h-1zM30 725h1v1h-1zM31 724h1v1h-1zM32 723h1v1h-1zM33 724h2v1h-2zM35 725h2v1h-2zM37 726h2v1h-2zM39 727h3v1h-3zM42 728h4v1h-4zM46 729h3v1h-3zM49 730h1v2h-1zM50 732h1v2h-1zM51 734h1v2h-1zM52 736h1v1h-1zM53 737h1v2h-1zM54 739h1v2h-1zM55 741h1v2h-1zM56 743h1v1h-1zM57 744h2v1h-2zM59 745h2v1h-2zM61 746h2v1h-2zM63 747h2v1h-2zM65 748h2v1h-2zM67 749h2v1h-2zM69 750h2v1h-2zM71 751h3v1h-3zM74 752h2v1h-2zM76 753h3v1h-3zM79 754h5v1h-5zM84 753h5v1h-5zM89 752h2v1h-2zM91 751h2v1h-2zM93 750h2v1h-2zM95 749h5v1h-5zM100 748h8v1h-8zM108 747h5v1h-5zM113 748h1v1h-1zM114 749h1v1h-1zM115 750h1v1h-1zM116 751h2v1h-2zM118 752h1v1h-1zM119 753h1v1h-1zM120 754h18v1h-18zM138 753h2v1h-2zM140 752h3v1h-3zM143 751h2v1h-2zM145 752h1v2h-1zM146 754h1v1h-1zM147 755h1v2h-1zM148 757h1v1h-1zM149 758h1v2h-1zM150 760h1v1h-1zM151 761h1v2h-1zM152 763h4v1h-4zM156 762h5v1h-5zM161 763h1v1h-1zM162 764h1v1h-1zM163 765h1v1h-1zM164 766h1v1h-1zM165 767h1v1h-1zM166 768h1v1h-1zM167 769h1v1h-1zM168 770h4v1h-4zM172 769h8v1h-8zM180 770h6v1h-6zM186 769h4v1h-4zM190 768h3v1h-3zM193 767h1v1h-1zM194 766h1v1h-1zM195 765h1v1h-1zM196 764h2v1h-2zM198 763h1v1h-1zM199 762h1v1h-1zM200 761h1v1h-1zM201 762h2v1h-2zM203 763h1v1h-1zM204 764h2v1h-2zM206 765h2v1h-2zM208 766h2v1h-2zM210 765h2v1h-2zM212 764h3v1h-3zM215 763h5v1h-5zM220 764h14v1h-14zM234 763h2v1h-2zM236 762h3v1h-3zM239 761h2v1h-2zM241 762h1v2h-1zM242 764h1v2h-1zM243 766h1v2h-1zM244 768h1v2h-1zM245 770h1v2h-1zM246 772h1v2h-1zM247 774h1v2h-1zM248 776h1v1h-1zM248 775h1v1h-1zM249 774h1v1h-1zM249 773h1v1h-1zM250 772h1v1h-1zM250 771h1v1h-1zM251 770h1v1h-1zM251 769h1v1h-1zM252 768h1v1h-1zM252 767h1v1h-1zM253 766h1v1h-1zM253 765h1v1h-1zM254 764h1v1h-1zM254 763h1v1h-1zM255 762h1v1h-1zM255 761h1v1h-1zM256 760h1v1h-1zM256 759h1v1h-1zM256 758h1v1h-1zM257 757h1v1h-1zM257 756h1v1h-1zM258 755h1v1h-1zM258 754h1v1h-1zM259 753h1v1h-1zM259 752h1v1h-1zM260 751h1v1h-1zM260 750h1v1h-1zM261 749h1v1h-1zM261 748h1v1h-1zM262 747h1v1h-1zM262 746h1v1h-1zM263 745h1v1h-1zM263 744h1v1h-1zM264 743h1v1h-1zM264 742h4v1h-4zM268 741h6v1h-6zM274 740h2v1h-2zM276 739h3v1h-3zM279 738h3v1h-3zM282 737h4v1h-4zM286 736h6v1h-6zM292 735h6v1h-6zM298 734h4v1h-4zM302 733h4v1h-4zM306 732h4v1h-4zM310 731h6v1h-6zM316 732h16v1h-16zM332 731h5v1h-5zM337 732h1v1h-1zM338 733h1v1h-1zM339 734h1v1h-1zM340 735h2v1h-2zM342 736h1v1h-1zM343 737h1v1h-1zM344 738h2v1h-2zM346 737h2v1h-2zM348 736h3v1h-3zM351 735h2v1h-2zM353 736h2v1h-2zM355 737h1v1h-1zM356 738h2v1h-2zM358 739h2v1h-2zM360 740h4v1h-4zM364 741h8v1h-8zM372 742h5v1h-5zM377 743h1v1h-1zM378 744h1v1h-1zM379 745h1v1h-1zM380 746h2v1h-2zM382 747h1v1h-1zM383 748h1v1h-1zM384 749h1v1h-1zM385 748h2v1h-2zM387 747h1v1h-1zM388 746h2v1h-2zM390 745h2v1h-2zM392 744h1v1h-1zM393 745h1v1h-1zM394 746h1v1h-1zM395 747h1v1h-1zM396 748h1v2h-1zM397 750h1v1h-1zM398 751h1v1h-1zM399 752h1v1h-1zM400 753h1v1h-1zM401 752h1v1h-1zM401 751h1v1h-1zM402 750h1v1h-1zM402 749h1v1h-1zM403 748h1v1h-1zM403 747h1v1h-1zM404 746h1v1h-1zM404 745h1v1h-1zM405 744h1v1h-1zM405 743h1v1h-1zM406 742h1v1h-1zM406 741h1v1h-1zM407 740h1v1h-1zM407 739h1v1h-1zM408 738h10v1h-10zM418 739h2v1h-2zM420 740h3v1h-3zM423 741h5v1h-5zM428 742h5v1h-5zM433 741h1v1h-1zM433 740h1v1h-1zM434 739h1v1h-1zM434 738h1v1h-1zM435 737h1v1h-1zM435 736h1v1h-1zM436 735h1v1h-1zM437 734h1v1h-1zM437 733h1v1h-1zM438 732h1v1h-1zM438 731h1v1h-1zM439 730h1v1h-1zM439 729h1v1h-1zM440 728h2v1h-2zM442 727h4v1h-4zM446 726h3v1h-3zM449 727h2v1h-2zM451 728h2v1h-2zM453 729h2v1h-2zM455 730h5v1h-5zM460 731h5v1h-5zM465 732h1v1h-1zM466 733h1v1h-1zM467 734h1v1h-1zM468 735h2v1h-2zM470 736h1v1h-1zM471 737h1v1h-1zM472 738h1v1h-1zM473 737h2v1h-2zM475 736h1v1h-1zM476 735h2v1h-2zM478 734h3v1h-3zM480 733h1v1h-1zM481 735h1v2h-1zM482 737h1v3h-1zM483 740h1v2h-1zM484 742h1v3h-1zM485 745h1v2h-1zM486 747h1v3h-1zM487 750h1v2h-1zM488 752h1v2h-1zM489 753h1v1h-1zM490 754h4v1h-4zM494 755h6v1h-6zM500 756h6v1h-6zM506 755h2v1h-2zM508 754h3v1h-3zM511 753h2v1h-2zM513 754h2v1h-2zM515 755h1v1h-1zM516 756h2v1h-2zM518 757h2v1h-2zM520 758h1v1h-1zM521 757h1v1h-1zM522 756h1v1h-1zM523 755h1v1h-1zM524 754h2v1h-2zM526 753h1v1h-1zM527 752h1v1h-1zM528 751h4v1h-4zM532 752h6v1h-6zM538 751h4v1h-4zM542 750h3v1h-3zM545 749h1v1h-1zM546 748h2v1h-2zM548 747h1v1h-1zM549 746h1v1h-1zM550 745h2v1h-2zM552 744h4v1h-4zM556 743h6v1h-6zM562 744h2v1h-2zM564 745h3v1h-3zM567 746h2v1h-2zM569 745h1v1h-1zM570 744h1v1h-1zM571 743h1v1h-1zM572 742h2v1h-2zM574 741h1v1h-1zM575 740h1v1h-1zM576 739h9v1h-9zM585 740h1v2h-1zM586 742h1v1h-1zM587 743h1v1h-1zM588 744h1v2h-1zM589 746h1v1h-1zM590 747h1v1h-1zM591 748h1v2h-1zM592 750h1v1h-1zM593 749h2v1h-2zM595 748h1v1h-1zM596 747h2v1h-2zM598 746h2v1h-2zM600 745h1v1h-1zM601 744h2v1h-2zM603 743h2v1h-2zM605 742h2v1h-2zM607 741h3v1h-3zM610 740h4v1h-4zM614 739h3v1h-3zM617 738h2v1h-2zM619 737h2v1h-2zM621 736h2v1h-2zM623 735h2v1h-2zM625 736h1v1h-1zM626 737h1v2h-1zM627 739h1v1h-1zM628 740h1v1h-1zM629 741h1v1h-1zM630 742h1v2h-1zM631 744h1v1h-1zM632 745h1v1h-1zM633 746h1v1h-1zM634 747h2v1h-2zM636 748h1v1h-1zM637 749h1v1h-1zM638 750h2v1h-2zM640 751h1v1h-1zM641 752h2v1h-2zM643 753h2v1h-2zM645 754h2v1h-2zM647 755h2v1h-2zM649 754h2v1h-2zM651 753h1v1h-1zM652 752h2v1h-2zM654 751h2v1h-2zM656 750h4v1h-4zM660 751h8v1h-8zM668 752h5v1h-5zM673 753h1v1h-1zM674 754h1v1h-1zM675 755h1v1h-1zM676 756h1v1h-1zM677 757h1v1h-1zM678 758h1v1h-1zM679 759h1v1h-1zM680 760h4v1h-4zM684 761h5v1h-5zM689 760h1v1h-1zM690 759h2v1h-2zM692 758h1v1h-1zM693 757h1v1h-1zM694 756h2v1h-2zM696 755h2v1h-2zM698 756h4v1h-4zM702 757h3v1h-3zM705 756h1v1h-1zM706 755h1v1h-1zM707 754h1v1h-1zM708 753h2v1h-2zM710 752h1v1h-1zM711 751h1v1h-1zM712 750h4v1h-4zM716 751h5v1h-5zM721 750h2v1h-2zM723 749h1v1h-1zM724 748h2v1h-2zM726 747h2v1h-2zM728 746h1v1h-1zM729 747h2v1h-2zM731 748h2v1h-2zM733 749h2v1h-2zM735 750h2v1h-2zM737 749h2v1h-2zM739 748h2v1h-2zM741 747h2v1h-2zM743 746h11v1h-11zM754 745h2v1h-2zM756 744h3v1h-3zM759 743h3v1h-3zM762 744h4v1h-4zM766 745h3v1h-3zM769 744h1v1h-1zM770 743h1v1h-1zM771 742h1v1h-1zM772 741h1v1h-1zM772 740h1v1h-1zM773 739h1v1h-1zM774 738h1v1h-1zM775 737h1v1h-1zM776 736h1v1h-1zM777 737h1v1h-1zM778 738h2v1h-2zM780 739h1v1h-1zM781 740h1v1h-1zM782 741h2v1h-2zM784 742h1v1h-1zM785 743h2v1h-2zM787 744h1v1h-1zM788 745h2v1h-2zM790 746h2v1h-2zM792 747h9v1h-9zM801 746h1v1h-1zM802 745h1v1h-1zM803 744h1v1h-1zM804 743h1v1h-1zM805 742h1v1h-1zM806 741h1v1h-1zM807 740h1v1h-1zM808 739h2v1h-2zM810 738h2v1h-2zM812 737h3v1h-3zM815 736h2v1h-2zM817 737h1v2h-1zM818 739h1v1h-1zM819 740h1v1h-1zM820 741h1v2h-1zM821 743h1v1h-1zM822 744h1v1h-1zM823 745h1v2h-1zM824 747h9v1h-9zM833 746h2v1h-2zM835 745h2v1h-2zM837 744h2v1h-2zM839 743h3v1h-3zM842 742h4v1h-4zM846 741h11v1h-11zM857 742h1v2h-1zM858 744h1v1h-1zM859 745h1v1h-1zM860 746h1v2h-1zM861 748h1v1h-1zM862 749h1v1h-1zM863 750h1v2h-1zM864 752h1v1h-1zM865 751h1v1h-1zM865 750h1v1h-1zM866 749h1v1h-1zM867 748h1v1h-1zM867 747h1v1h-1zM868 746h1v1h-1zM869 745h1v1h-1zM869 744h1v1h-1zM870 743h1v1h-1zM871 742h1v1h-1zM871 741h1v1h-1zM872 740h2v1h-2zM874 741h4v1h-4zM878 742h6v1h-6zM884 743h13v1h-13zM897 742h2v1h-2zM899 741h2v1h-2zM901 740h2v1h-2zM903 739h5v1h-5zM908 738h5v1h-5zM913 737h1v1h-1zM914 736h1v1h-1zM915 735h1v1h-1zM916 734h1v1h-1zM917 733h1v1h-1zM918 732h1v1h-1zM919 731h1v1h-1zM920 730h1v1h-1zM921 731h1v1h-1zM922 732h1v2h-1zM923 734h1v1h-1zM924 735h1v1h-1zM925 736h1v1h-1zM926 737h1v2h-1zM927 739h1v1h-1zM928 740h1v1h-1zM929 739h1v1h-1zM930 738h1v1h-1zM931 737h1v1h-1zM932 736h1v1h-1zM933 735h1v1h-1zM934 734h1v1h-1zM935 733h1v1h-1zM936 732h18v1h-18zM954 733h4v1h-4zM958 734h4v1h-4zM962 733h4v1h-4zM966 732h3v1h-3zM969 733h1v1h-1zM970 734h1v1h-1zM971 735h1v1h-1zM972 736h2v1h-2zM974 737h1v1h-1zM975 738h1v1h-1zM976 739h10v1h-10zM986 740h2v1h-2zM988 741h3v1h-3zM991 742h2v1h-2zM993 743h1v1h-1zM994 744h1v1h-1zM995 745h1v1h-1zM996 746h1v2h-1zM997 748h1v1h-1zM998 749h1v1h-1zM999 750h1v1h-1zM1000 751h1v1h-1zM1001 752h1v2h-1zM1002 754h1v2h-1zM1003 756h1v2h-1zM1004 758h1v1h-1zM1005 759h1v2h-1zM1006 761h1v2h-1zM1007 763h1v2h-1zM1008 765h4v1h-4zM1012 764h5v1h-5zM1017 763h2v1h-2zM1019 762h1v1h-1zM1020 761h2v1h-2zM1022 760h2v1h-2zM1024 759h2v1h-2zM1026 758h4v1h-4zM1030 757h4v1h-4zM1034 756h2v1h-2zM1036 755h3v1h-3zM1039 754h5v1h-5zM1044 755h5v1h-5zM1049 756h1v1h-1zM1050 757h2v1h-2zM1052 758h1v1h-1zM1053 759h1v1h-1zM1054 760h2v1h-2zM1056 761h1v1h-1zM1057 762h2v1h-2zM1059 763h2v1h-2zM1061 764h2v1h-2zM1063 765h2v1h-2zM1065 764h1v1h-1zM1066 763h1v1h-1zM1067 762h1v1h-1zM1068 761h2v1h-2zM1070 760h1v1h-1zM1071 759h1v1h-1zM1072 758h1v1h-1zM1073 759h1v1h-1zM1074 760h1v1h-1zM1075 761h1v1h-1zM1076 762h2v1h-2zM1078 763h1v1h-1zM1079 764h1v1h-1zM1080 765h1v1h-1zM1081 764h2v1h-2zM1083 763h1v1h-1zM1084 762h2v1h-2zM1086 761h2v1h-2zM1088 760h1v1h-1zM1089 759h2v1h-2zM1091 758h2v1h-2zM1093 757h2v1h-2zM1095 756h3v1h-3zM1098 757h4v1h-4zM1102 758h6v1h-6zM1108 759h5v1h-5zM1113 758h2v1h-2zM1115 757h2v1h-2zM1117 756h2v1h-2zM1119 755h2v1h-2z"/>
<rect x="7" y="30" width="1417" height="1" fill="#000"/>
<rect x="7" y="30" width="1" height="779" fill="#000"/>
<rect x="1423" y="30" width="1" height="779" fill="#000"/>
<rect x="7" y="808" width="1417" height="1" fill="#000"/>
<rect x="7" y="570" width="1417" height="1" fill="#000"/>
<rect x="7" y="572" width="1417" height="1" fill="#000"/>
<rect x="7" y="676" width="1417" height="1" fill="#000"/>
<rect x="7" y="678" width="1417" height="1" fill="#000"/>
<rect x="7" y="571" width="1417" height="1" fill="#fff"/>
<rect x="7" y="677" width="1417" height="1" fill="#fff"/>
<rect x="1424" y="39" width="2" height="1" fill="#000"/>
<rect x="1424" y="72" width="2" height="1" fill="#000"/>
<rect x="1424" y="105" width="2" height="1" fill="#000"/>
<rect x="1424" y="138" width="2" height="1" fill="#000"/>
<rect x="1424" y="171" width="2" height="1" fill="#000"/>
<rect x="1424" y="204" width="2" height="1" fill="#000"/>
<rect x="1424" y="237" width="2" height="1" fill="#000"/>
<rect x="1424" y="270" width="2" height="1" fill="#000"/>
<rect x="1424" y="303" width="2" height="1" fill="#000"/>
<rect x="1424" y="336" width="2" height="1" fill="#000"/>
<rect x="1424" y="369" width="2" height="1" fill="#000"/>
<rect x="1424" y="435" width="2" height="1" fill="#000"/>
<rect x="1424" y="468" width="2" height="1" fill="#000"/>
<rect x="1424" y="501" width="2" height="1" fill="#000"/>
<rect x="1424" y="534" width="2" height="1" fill="#000"/>
<rect x="1424" y="567" width="2" height="1" fill="#000"/>
<rect x="1424" y="574" width="1" height="1" fill="#000"/>
<rect x="1424" y="615" width="1" height="1" fill="#000"/>
<rect x="1424" y="675" width="1" height="1" fill="#000"/>
<rect x="1424" y="680" width="1" height="1" fill="#000"/>
<rect x="1424" y="807" width="1" height="1" fill="#000"/>
<rect x="8" y="809" width="1" height="3" fill="#000"/>
<rect x="72" y="809" width="1" height="3" fill="#000"/>
<rect x="136" y="809" width="1" height="3" fill="#000"/>
<rect x="200" y="809" width="1" height="3" fill="#000"/>
<rect x="264" y="809" width="1" height="3" fill="#000"/>
<rect x="328" y="809" width="1" height="3" fill="#000"/>
<rect x="392" y="809" width="1" height="3" fill="#000"/>
<rect x="456" y="809" width="1" height="3" fill="#000"/>
<rect x="520" y="809" width="1" height="3" fill="#000"/>
<rect x="584" y="809" width="1" height="3" fill="#000"/>
<rect x="648" y="809" width="1" height="3" fill="#000"/>
<rect x="712" y="809" width="1" height="3" fill="#000"/>
<rect x="776" y="809" width="1" height="3" fill="#000"/>
<rect x="840" y="809" width="1" height="3" fill="#000"/>
<rect x="904" y="809" width="1" height="3" fill="#000"/>
<rect x="968" y="809" width="1" height="3" fill="#000"/>
<rect x="1032" y="809" width="1" height="3" fill="#000"/>
<rect x="1096" y="809" width="1" height="3" fill="#000"/>
<rect x="1425" y="397" width="41" height="11" fill="#000"/>
<polygon points="1442.4,837 1442.4,843.4 1438.8,840.2" fill="#a0a0a0" shape-rendering="geometricPrecision"/>
<polygon points="1457.7,837 1457.7,843.4 1461.4,840.2" fill="#a0a0a0" shape-rendering="geometricPrecision"/>
<polygon points="11,41.5 18.5,41.5 14.75,37" fill="#000" shape-rendering="geometricPrecision"/>
</svg>
<div class="t" style="left:23.5px;top:35px;transform:scaleX(0.949)">AUDUSD-,Daily</div>
<div class="t" style="left:97.7px;top:35px;transform:scaleX(0.904)">0.69868 0.70054 0.69780 0.70048</div>
<div class="t" style="left:12.4px;top:578px;transform:scaleX(0.912)">MACD(12,26,9) -0.003163 -0.003037</div>
<div class="t" style="left:12.4px;top:684px;transform:scaleX(0.903)">RSI(14) 41.8682</div>
<div class="t" style="left:1429px;top:36px;transform:scaleX(0.895)">0.74130</div>
<div class="t" style="left:1429px;top:69px;transform:scaleX(0.895)">0.73750</div>
<div class="t" style="left:1429px;top:102px;transform:scaleX(0.895)">0.73380</div>
<div class="t" style="left:1429px;top:135px;transform:scaleX(0.895)">0.73010</div>
<div class="t" style="left:1429px;top:168px;transform:scaleX(0.895)">0.72640</div>
<div class="t" style="left:1429px;top:201px;transform:scaleX(0.895)">0.72270</div>
<div class="t" style="left:1429px;top:234px;transform:scaleX(0.895)">0.71900</div>
<div class="t" style="left:1429px;top:267px;transform:scaleX(0.895)">0.71530</div>
<div class="t" style="left:1429px;top:300px;transform:scaleX(0.895)">0.71160</div>
<div class="t" style="left:1429px;top:333px;transform:scaleX(0.895)">0.70790</div>
<div class="t" style="left:1429px;top:366px;transform:scaleX(0.895)">0.70420</div>
<div class="t" style="left:1429px;top:432px;transform:scaleX(0.895)">0.69680</div>
<div class="t" style="left:1429px;top:465px;transform:scaleX(0.895)">0.69310</div>
<div class="t" style="left:1429px;top:498px;transform:scaleX(0.895)">0.68940</div>
<div class="t" style="left:1429px;top:531px;transform:scaleX(0.895)">0.68570</div>
<div class="t" style="left:1429px;top:564px;transform:scaleX(0.895)">0.68200</div>
<div class="t" style="left:1427px;top:576px;transform:scaleX(0.891)">0.004331</div>
<div class="t" style="left:1427px;top:612px;transform:scaleX(0.895)">0.00</div>
<div class="t" style="left:1427px;top:666px;transform:scaleX(0.897)">-0.006373</div>
<div class="t" style="left:1427px;top:682px;transform:scaleX(0.893)">100</div>
<div class="t" style="left:1426px;top:715px;transform:scaleX(0.895)">70</div>
<div class="t" style="left:1426px;top:766px;transform:scaleX(0.895)">30</div>
<div class="t" style="left:1427px;top:798px;transform:scaleX(0.895)">0</div>
<div class="t" style="left:1429px;top:399px;transform:scaleX(0.895);color:#fff">0.70048</div>
<div class="t" style="left:7px;top:814px;transform:scaleX(0.936);transform-origin:0 0">28 Nov 2018</div>
<div class="t" style="left:71px;top:814px;transform:scaleX(0.888);transform-origin:0 0">7 Dec 2018</div>
<div class="t" style="left:135px;top:814px;transform:scaleX(0.888);transform-origin:0 0">17 Dec 2018</div>
<div class="t" style="left:199px;top:814px;transform:scaleX(0.888);transform-origin:0 0">26 Dec 2018</div>
<div class="t" style="left:263px;top:814px;transform:scaleX(0.879);transform-origin:0 0">4 Jan 2019</div>
<div class="t" style="left:327px;top:814px;transform:scaleX(0.886);transform-origin:0 0">14 Jan 2019</div>
<div class="t" style="left:391px;top:814px;transform:scaleX(0.886);transform-origin:0 0">23 Jan 2019</div>
<div class="t" style="left:455px;top:814px;transform:scaleX(0.905);transform-origin:0 0">1 Feb 2019</div>
<div class="t" style="left:519px;top:814px;transform:scaleX(0.905);transform-origin:0 0">11 Feb 2019</div>
<div class="t" style="left:583px;top:814px;transform:scaleX(0.911);transform-origin:0 0">20 Feb 2019</div>
<div class="t" style="left:647px;top:814px;transform:scaleX(0.898);transform-origin:0 0">1 Mar 2019</div>
<div class="t" style="left:711px;top:814px;transform:scaleX(0.915);transform-origin:0 0">11 Mar 2019</div>
<div class="t" style="left:775px;top:814px;transform:scaleX(0.911);transform-origin:0 0">20 Mar 2019</div>
<div class="t" style="left:839px;top:814px;transform:scaleX(0.911);transform-origin:0 0">29 Mar 2019</div>
<div class="t" style="left:903px;top:814px;transform:scaleX(0.935);transform-origin:0 0">8 Apr 2019</div>
<div class="t" style="left:967px;top:814px;transform:scaleX(0.922);transform-origin:0 0">17 Apr 2019</div>
<div class="t" style="left:1031px;top:814px;transform:scaleX(0.922);transform-origin:0 0">28 Apr 2019</div>
<div class="t" style="left:1095px;top:814px;transform:scaleX(0.935);transform-origin:0 0">7 May 2019</div>
<div class="a" style="left:11px;top:50px;width:219px;height:24px;background:#fff"></div>
<div class="a" style="left:11px;top:50px;width:52px;height:24px;background:linear-gradient(#5c5cff,#3232de)"></div>
<div class="a" style="left:178px;top:50px;width:52px;height:24px;background:linear-gradient(#5c5cff,#3232de)"></div>
<div class="a" style="left:11px;top:74px;width:109px;height:40px;background:linear-gradient(#3434de,#0000a8)"></div>
<div class="a" style="left:122px;top:74px;width:108px;height:40px;background:linear-gradient(#3434de,#0000a8)"></div>
<div class="a" style="left:11px;top:50px;width:1px;height:64px;background:#0000b4"></div>
<div class="a" style="left:11px;top:50px;width:52px;height:1px;background:#0000b4"></div>
<div class="a" style="left:62px;top:50px;width:1px;height:25px;background:#0000b4"></div>
<div class="a" style="left:62px;top:74px;width:58px;height:1px;background:#0000b4"></div>
<div class="a" style="left:119px;top:74px;width:1px;height:40px;background:#0000b4"></div>
<div class="a" style="left:11px;top:113px;width:109px;height:1px;background:#0000b4"></div>
<div class="a" style="left:122px;top:74px;width:1px;height:40px;background:#0000b4"></div>
<div class="a" style="left:122px;top:74px;width:57px;height:1px;background:#0000b4"></div>
<div class="a" style="left:178px;top:50px;width:1px;height:25px;background:#0000b4"></div>
<div class="a" style="left:178px;top:50px;width:52px;height:1px;background:#0000b4"></div>
<div class="a" style="left:229px;top:50px;width:1px;height:64px;background:#0000b4"></div>
<div class="a" style="left:122px;top:113px;width:108px;height:1px;background:#0000b4"></div>
<div class="a" style="left:15px;top:73px;width:44px;height:1px;background:#000088"></div>
<div class="a" style="left:15px;top:74px;width:44px;height:1px;background:#7878f4"></div>
<div class="a" style="left:182px;top:73px;width:44px;height:1px;background:#000088"></div>
<div class="a" style="left:182px;top:74px;width:44px;height:1px;background:#7878f4"></div>
<div class="a" style="left:65px;top:50px;width:111px;height:22px;background:#fff;border:1px solid #a8a8a8;box-sizing:border-box"></div>
<div class="a" style="left:67px;top:52px;width:19px;height:18px;background:linear-gradient(#e8e8e8 0%,#e0e0e0 45%,#cfcfcf 50%,#d4d4d4 100%)"></div>
<div class="a" style="left:86px;top:51px;width:1px;height:20px;background:#a8a8a8"></div>
<div class="a" style="left:155px;top:52px;width:19px;height:18px;background:linear-gradient(#e8e8e8 0%,#e0e0e0 45%,#cfcfcf 50%,#d4d4d4 100%)"></div>
<div class="a" style="left:154px;top:51px;width:1px;height:20px;background:#a8a8a8"></div>
<svg width="240" height="120" viewBox="0 0 240 120" shape-rendering="geometricPrecision"><polygon points="73,59 79,59 76,62.5" fill="#5565c0"/><polygon points="162,62 168,62 165,58.5" fill="#5565c0"/></svg>
<div class="a" style="left:23.0px;top:54.6px;font-size:12.2px;line-height:14px;color:#fff;white-space:pre;transform:scaleX(0.855);transform-origin:0 0">SELL</div>
<div class="a" style="left:191.8px;top:54.6px;font-size:12.3px;line-height:14px;color:#fff;white-space:pre;transform:scaleX(0.91);transform-origin:0 0">BUY</div>
<div class="a" style="left:127.8px;top:53.6px;font-size:12.1px;line-height:14px;color:#000;white-space:pre">1.00</div>
<div class="a" style="left:30.8px;top:94px;font-size:12.3px;line-height:14px;color:#fff;font-weight:bold;white-space:pre;transform:scaleX(1.03);transform-origin:0 0">0.70</div>
<div class="a" style="left:141.8px;top:94px;font-size:12.3px;line-height:14px;color:#fff;font-weight:bold;white-space:pre;transform:scaleX(1.03);transform-origin:0 0">0.70</div>
<div class="a" style="left:59px;top:75.3px;font-size:33px;line-height:36px;color:#fff;white-space:pre;transform:scaleX(0.96);transform-origin:0 0">04</div>
<div class="a" style="left:170px;top:75.3px;font-size:33px;line-height:36px;color:#fff;white-space:pre;transform:scaleX(0.96);transform-origin:0 0">06</div>
<div class="a" style="left:98.3px;top:78.3px;font-size:11.6px;line-height:12px;color:#fff;font-weight:bold;white-space:pre;transform:scaleX(1.1);transform-origin:0 0">8</div>
<div class="a" style="left:209.4px;top:78.3px;font-size:11.6px;line-height:12px;color:#fff;font-weight:bold;white-space:pre;transform:scaleX(1.1);transform-origin:0 0">9</div>

</body></html>
